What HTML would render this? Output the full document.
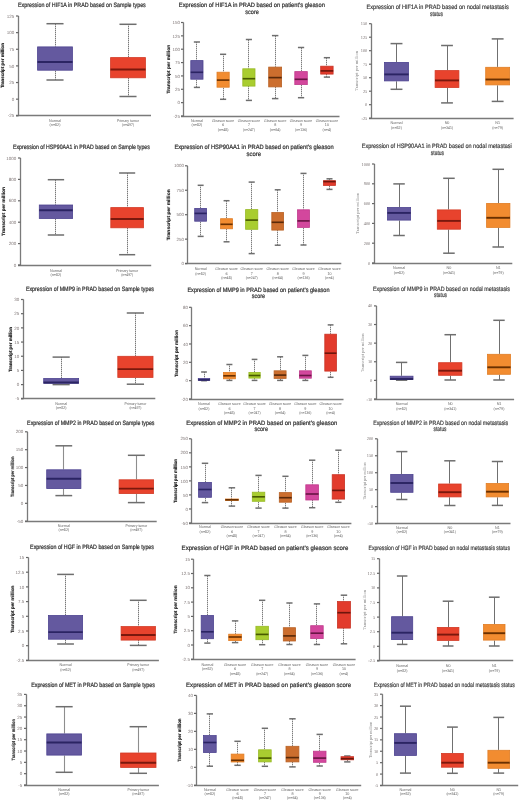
<!DOCTYPE html>
<html><head><meta charset="utf-8"><title>PRAD expression box plots</title>
<style>
html,body{margin:0;padding:0;background:#fff;}
body{width:520px;height:801px;overflow:hidden;}
svg{display:block;font-family:"Liberation Sans", sans-serif;will-change:transform;text-rendering:geometricPrecision;}
</style></head><body>
<svg width="520" height="801" viewBox="0 0 520 801">
<rect width="520" height="801" fill="#fff"/>
<text transform="translate(18 7.3) scale(1 1.13)" x="0" y="0" font-size="5.6" fill="#333" stroke="#333" stroke-width="0.2" textLength="127.8" lengthAdjust="spacingAndGlyphs">Expression of HIF1A in PRAD based on Sample types</text>
<line x1="18.5" y1="16" x2="18.5" y2="115.5" stroke="#7a7a7a" stroke-width="1.3"/>
<line x1="16" y1="115.5" x2="151" y2="115.5" stroke="#7a7a7a" stroke-width="1.35"/>
<line x1="16" y1="16" x2="18.5" y2="16" stroke="#666" stroke-width="1.2"/>
<text x="14.3" y="17.65" font-size="4.5" fill="#807878" text-anchor="end" font-weight="normal">125</text>
<line x1="16" y1="32.63" x2="18.5" y2="32.63" stroke="#666" stroke-width="1.2"/>
<text x="14.3" y="34.28" font-size="4.5" fill="#807878" text-anchor="end" font-weight="normal">100</text>
<line x1="16" y1="49.27" x2="18.5" y2="49.27" stroke="#666" stroke-width="1.2"/>
<text x="14.3" y="50.92" font-size="4.5" fill="#807878" text-anchor="end" font-weight="normal">75</text>
<line x1="16" y1="65.9" x2="18.5" y2="65.9" stroke="#666" stroke-width="1.2"/>
<text x="14.3" y="67.55" font-size="4.5" fill="#807878" text-anchor="end" font-weight="normal">50</text>
<line x1="16" y1="82.53" x2="18.5" y2="82.53" stroke="#666" stroke-width="1.2"/>
<text x="14.3" y="84.18" font-size="4.5" fill="#807878" text-anchor="end" font-weight="normal">25</text>
<line x1="16" y1="99.17" x2="18.5" y2="99.17" stroke="#666" stroke-width="1.2"/>
<text x="14.3" y="100.82" font-size="4.5" fill="#807878" text-anchor="end" font-weight="normal">0</text>
<line x1="16" y1="115.8" x2="18.5" y2="115.8" stroke="#666" stroke-width="1.2"/>
<text x="14.3" y="117.45" font-size="4.5" fill="#807878" text-anchor="end" font-weight="normal">-25</text>
<text transform="translate(4.1 65.6) rotate(-90)" x="0" y="0" font-size="4.6" fill="#222" stroke="#222" stroke-width="0.15" font-weight="bold" text-anchor="middle" textLength="45" lengthAdjust="spacingAndGlyphs">Transcript per million</text>
<line x1="55.5" y1="23.7" x2="55.5" y2="46.5" stroke="#cccccc" stroke-width="1"/>
<line x1="55.5" y1="24" x2="55.5" y2="46.5" stroke="#787878" stroke-width="1" stroke-dasharray="1 1"/>
<line x1="55.5" y1="70.6" x2="55.5" y2="80" stroke="#cccccc" stroke-width="1"/>
<line x1="55.5" y1="71" x2="55.5" y2="80" stroke="#787878" stroke-width="1" stroke-dasharray="1 1"/>
<line x1="46.46" y1="23.7" x2="63.54" y2="23.7" stroke="#6e6e6e" stroke-width="1.5"/>
<line x1="46.46" y1="80" x2="63.54" y2="80" stroke="#6e6e6e" stroke-width="1.5"/>
<rect x="37.6" y="46.9" width="34.8" height="23.3" fill="#64599f" stroke="#4d4390" stroke-width="0.8"/>
<line x1="37.5" y1="62" x2="72.5" y2="62" stroke="#2b2463" stroke-width="1.9"/>
<text transform="translate(55 121.95) scale(0.5)" x="0" y="0" font-size="7.8" fill="#747474" stroke="#747474" stroke-width="0.08" text-anchor="middle" textLength="23.88" lengthAdjust="spacingAndGlyphs">Normal</text>
<text transform="translate(55 126.45) scale(0.5)" x="0" y="0" font-size="7.8" fill="#747474" stroke="#747474" stroke-width="0.08" text-anchor="middle" textLength="21.63" lengthAdjust="spacingAndGlyphs">(n=52)</text>
<line x1="128.5" y1="24.3" x2="128.5" y2="57.2" stroke="#cccccc" stroke-width="1"/>
<line x1="128.5" y1="24" x2="128.5" y2="57.2" stroke="#787878" stroke-width="1" stroke-dasharray="1 1"/>
<line x1="128.5" y1="78.2" x2="128.5" y2="96.5" stroke="#cccccc" stroke-width="1"/>
<line x1="128.5" y1="78" x2="128.5" y2="96.5" stroke="#787878" stroke-width="1" stroke-dasharray="1 1"/>
<line x1="119.46" y1="24.3" x2="136.54" y2="24.3" stroke="#6e6e6e" stroke-width="1.5"/>
<line x1="119.46" y1="96.5" x2="136.54" y2="96.5" stroke="#6e6e6e" stroke-width="1.5"/>
<rect x="110.6" y="57.6" width="34.8" height="20.2" fill="#e8432d" stroke="#d33a25" stroke-width="0.8"/>
<line x1="110.5" y1="69.5" x2="145.5" y2="69.5" stroke="#7a180d" stroke-width="1.9"/>
<text transform="translate(128 121.95) scale(0.5)" x="0" y="0" font-size="7.8" fill="#747474" stroke="#747474" stroke-width="0.08" text-anchor="middle" textLength="43.59" lengthAdjust="spacingAndGlyphs">Primary tumor</text>
<text transform="translate(128 126.45) scale(0.5)" x="0" y="0" font-size="7.8" fill="#747474" stroke="#747474" stroke-width="0.08" text-anchor="middle" textLength="24.12" lengthAdjust="spacingAndGlyphs">(n=497)</text>
<text transform="translate(13 149.3) scale(1 1.13)" x="0" y="0" font-size="5.6" fill="#333" stroke="#333" stroke-width="0.2" textLength="136.8" lengthAdjust="spacingAndGlyphs">Expression of HSP90AA1 in PRAD based on Sample types</text>
<line x1="20.5" y1="158" x2="20.5" y2="265.5" stroke="#7a7a7a" stroke-width="1.3"/>
<line x1="18" y1="265.5" x2="151.2" y2="265.5" stroke="#7a7a7a" stroke-width="1.35"/>
<line x1="18" y1="158" x2="20.5" y2="158" stroke="#666" stroke-width="1.2"/>
<text x="16.3" y="159.65" font-size="4.5" fill="#807878" text-anchor="end" font-weight="normal">1000</text>
<line x1="18" y1="179.4" x2="20.5" y2="179.4" stroke="#666" stroke-width="1.2"/>
<text x="16.3" y="181.05" font-size="4.5" fill="#807878" text-anchor="end" font-weight="normal">800</text>
<line x1="18" y1="200.8" x2="20.5" y2="200.8" stroke="#666" stroke-width="1.2"/>
<text x="16.3" y="202.45" font-size="4.5" fill="#807878" text-anchor="end" font-weight="normal">600</text>
<line x1="18" y1="222.2" x2="20.5" y2="222.2" stroke="#666" stroke-width="1.2"/>
<text x="16.3" y="223.85" font-size="4.5" fill="#807878" text-anchor="end" font-weight="normal">400</text>
<line x1="18" y1="243.6" x2="20.5" y2="243.6" stroke="#666" stroke-width="1.2"/>
<text x="16.3" y="245.25" font-size="4.5" fill="#807878" text-anchor="end" font-weight="normal">200</text>
<line x1="18" y1="265" x2="20.5" y2="265" stroke="#666" stroke-width="1.2"/>
<text x="16.3" y="266.65" font-size="4.5" fill="#807878" text-anchor="end" font-weight="normal">0</text>
<text transform="translate(4.8 211.5) rotate(-90)" x="0" y="0" font-size="4.6" fill="#222" stroke="#222" stroke-width="0.15" font-weight="bold" text-anchor="middle" textLength="49" lengthAdjust="spacingAndGlyphs">Transcript per million</text>
<line x1="55.5" y1="179.7" x2="55.5" y2="204.6" stroke="#cccccc" stroke-width="1"/>
<line x1="55.5" y1="180" x2="55.5" y2="204.6" stroke="#787878" stroke-width="1" stroke-dasharray="1 1"/>
<line x1="55.5" y1="218.9" x2="55.5" y2="235" stroke="#cccccc" stroke-width="1"/>
<line x1="55.5" y1="219" x2="55.5" y2="235" stroke="#787878" stroke-width="1" stroke-dasharray="1 1"/>
<line x1="47.77" y1="179.7" x2="64.13" y2="179.7" stroke="#6e6e6e" stroke-width="1.5"/>
<line x1="47.77" y1="235" x2="64.13" y2="235" stroke="#6e6e6e" stroke-width="1.5"/>
<rect x="39.3" y="205" width="33.3" height="13.5" fill="#64599f" stroke="#4d4390" stroke-width="0.8"/>
<line x1="39.2" y1="210.3" x2="72.7" y2="210.3" stroke="#2b2463" stroke-width="1.9"/>
<text transform="translate(55.95 271.55) scale(0.5)" x="0" y="0" font-size="7.8" fill="#747474" stroke="#747474" stroke-width="0.08" text-anchor="middle" textLength="23.88" lengthAdjust="spacingAndGlyphs">Normal</text>
<text transform="translate(55.95 276.15) scale(0.5)" x="0" y="0" font-size="7.8" fill="#747474" stroke="#747474" stroke-width="0.08" text-anchor="middle" textLength="21.63" lengthAdjust="spacingAndGlyphs">(n=52)</text>
<line x1="127.5" y1="173" x2="127.5" y2="207.2" stroke="#cccccc" stroke-width="1"/>
<line x1="127.5" y1="173" x2="127.5" y2="207.2" stroke="#787878" stroke-width="1" stroke-dasharray="1 1"/>
<line x1="127.5" y1="228.2" x2="127.5" y2="254.7" stroke="#cccccc" stroke-width="1"/>
<line x1="127.5" y1="228" x2="127.5" y2="254.7" stroke="#787878" stroke-width="1" stroke-dasharray="1 1"/>
<line x1="119.11" y1="173" x2="135.19" y2="173" stroke="#6e6e6e" stroke-width="1.5"/>
<line x1="119.11" y1="254.7" x2="135.19" y2="254.7" stroke="#6e6e6e" stroke-width="1.5"/>
<rect x="110.8" y="207.6" width="32.7" height="20.2" fill="#e8432d" stroke="#d33a25" stroke-width="0.8"/>
<line x1="110.7" y1="219" x2="143.6" y2="219" stroke="#7a180d" stroke-width="1.9"/>
<text transform="translate(127.15 271.55) scale(0.5)" x="0" y="0" font-size="7.8" fill="#747474" stroke="#747474" stroke-width="0.08" text-anchor="middle" textLength="43.59" lengthAdjust="spacingAndGlyphs">Primary tumor</text>
<text transform="translate(127.15 276.15) scale(0.5)" x="0" y="0" font-size="7.8" fill="#747474" stroke="#747474" stroke-width="0.08" text-anchor="middle" textLength="24.12" lengthAdjust="spacingAndGlyphs">(n=497)</text>
<text transform="translate(25.9 290.9) scale(1 1.13)" x="0" y="0" font-size="5.6" fill="#333" stroke="#333" stroke-width="0.2" textLength="128.1" lengthAdjust="spacingAndGlyphs">Expression of MMP9 in PRAD based on Sample types</text>
<line x1="23.5" y1="299.5" x2="23.5" y2="398.5" stroke="#7a7a7a" stroke-width="1.3"/>
<line x1="21" y1="398.5" x2="155.3" y2="398.5" stroke="#7a7a7a" stroke-width="1.35"/>
<line x1="21" y1="299.5" x2="23.5" y2="299.5" stroke="#666" stroke-width="1.2"/>
<text x="19.3" y="301.15" font-size="4.5" fill="#807878" text-anchor="end" font-weight="normal">30</text>
<line x1="21" y1="313.69" x2="23.5" y2="313.69" stroke="#666" stroke-width="1.2"/>
<text x="19.3" y="315.34" font-size="4.5" fill="#807878" text-anchor="end" font-weight="normal">25</text>
<line x1="21" y1="327.87" x2="23.5" y2="327.87" stroke="#666" stroke-width="1.2"/>
<text x="19.3" y="329.52" font-size="4.5" fill="#807878" text-anchor="end" font-weight="normal">20</text>
<line x1="21" y1="342.06" x2="23.5" y2="342.06" stroke="#666" stroke-width="1.2"/>
<text x="19.3" y="343.71" font-size="4.5" fill="#807878" text-anchor="end" font-weight="normal">15</text>
<line x1="21" y1="356.24" x2="23.5" y2="356.24" stroke="#666" stroke-width="1.2"/>
<text x="19.3" y="357.89" font-size="4.5" fill="#807878" text-anchor="end" font-weight="normal">10</text>
<line x1="21" y1="370.43" x2="23.5" y2="370.43" stroke="#666" stroke-width="1.2"/>
<text x="19.3" y="372.08" font-size="4.5" fill="#807878" text-anchor="end" font-weight="normal">5</text>
<line x1="21" y1="384.61" x2="23.5" y2="384.61" stroke="#666" stroke-width="1.2"/>
<text x="19.3" y="386.26" font-size="4.5" fill="#807878" text-anchor="end" font-weight="normal">0</text>
<line x1="21" y1="398.8" x2="23.5" y2="398.8" stroke="#666" stroke-width="1.2"/>
<text x="19.3" y="400.45" font-size="4.5" fill="#807878" text-anchor="end" font-weight="normal">-5</text>
<text transform="translate(12.4 349.5) rotate(-90)" x="0" y="0" font-size="4.6" fill="#222" stroke="#222" stroke-width="0.15" font-weight="bold" text-anchor="middle" textLength="45" lengthAdjust="spacingAndGlyphs">Transcript per million</text>
<line x1="61.5" y1="357.1" x2="61.5" y2="378.1" stroke="#cccccc" stroke-width="1"/>
<line x1="61.5" y1="357" x2="61.5" y2="378.1" stroke="#787878" stroke-width="1" stroke-dasharray="1 1"/>
<line x1="61.5" y1="383.7" x2="61.5" y2="384.6" stroke="#cccccc" stroke-width="1"/>
<line x1="61.5" y1="384" x2="61.5" y2="384.6" stroke="#787878" stroke-width="1" stroke-dasharray="1 1"/>
<line x1="52.58" y1="357.1" x2="69.72" y2="357.1" stroke="#6e6e6e" stroke-width="1.5"/>
<line x1="52.58" y1="384.6" x2="69.72" y2="384.6" stroke="#6e6e6e" stroke-width="1.5"/>
<rect x="43.7" y="378.5" width="34.9" height="4.8" fill="#64599f" stroke="#4d4390" stroke-width="0.8"/>
<line x1="43.6" y1="382.5" x2="78.7" y2="382.5" stroke="#2b2463" stroke-width="1.9"/>
<text transform="translate(61.15 404.85) scale(0.5)" x="0" y="0" font-size="7.8" fill="#747474" stroke="#747474" stroke-width="0.08" text-anchor="middle" textLength="23.88" lengthAdjust="spacingAndGlyphs">Normal</text>
<text transform="translate(61.15 409.35) scale(0.5)" x="0" y="0" font-size="7.8" fill="#747474" stroke="#747474" stroke-width="0.08" text-anchor="middle" textLength="21.63" lengthAdjust="spacingAndGlyphs">(n=52)</text>
<line x1="135.5" y1="313" x2="135.5" y2="355.9" stroke="#cccccc" stroke-width="1"/>
<line x1="135.5" y1="313" x2="135.5" y2="355.9" stroke="#787878" stroke-width="1" stroke-dasharray="1 1"/>
<line x1="135.5" y1="377.8" x2="135.5" y2="384.2" stroke="#cccccc" stroke-width="1"/>
<line x1="135.5" y1="378" x2="135.5" y2="384.2" stroke="#787878" stroke-width="1" stroke-dasharray="1 1"/>
<line x1="126.76" y1="313" x2="144.04" y2="313" stroke="#6e6e6e" stroke-width="1.5"/>
<line x1="126.76" y1="384.2" x2="144.04" y2="384.2" stroke="#6e6e6e" stroke-width="1.5"/>
<rect x="117.8" y="356.3" width="35.2" height="21.1" fill="#e8432d" stroke="#d33a25" stroke-width="0.8"/>
<line x1="117.7" y1="369.1" x2="153.1" y2="369.1" stroke="#7a180d" stroke-width="1.9"/>
<text transform="translate(135.4 404.85) scale(0.5)" x="0" y="0" font-size="7.8" fill="#747474" stroke="#747474" stroke-width="0.08" text-anchor="middle" textLength="43.59" lengthAdjust="spacingAndGlyphs">Primary tumor</text>
<text transform="translate(135.4 409.35) scale(0.5)" x="0" y="0" font-size="7.8" fill="#747474" stroke="#747474" stroke-width="0.08" text-anchor="middle" textLength="24.12" lengthAdjust="spacingAndGlyphs">(n=497)</text>
<text transform="translate(27.1 424.6) scale(1 1.13)" x="0" y="0" font-size="5.6" fill="#333" stroke="#333" stroke-width="0.2" textLength="127.4" lengthAdjust="spacingAndGlyphs">Expression of MMP2 in PRAD based on Sample types</text>
<line x1="27.5" y1="431.8" x2="27.5" y2="521.5" stroke="#7a7a7a" stroke-width="1.3"/>
<line x1="25" y1="521.5" x2="156.7" y2="521.5" stroke="#7a7a7a" stroke-width="1.35"/>
<line x1="25" y1="431.8" x2="27.5" y2="431.8" stroke="#666" stroke-width="1.2"/>
<text x="23.3" y="433.45" font-size="4.5" fill="#807878" text-anchor="end" font-weight="normal">200</text>
<line x1="25" y1="449.68" x2="27.5" y2="449.68" stroke="#666" stroke-width="1.2"/>
<text x="23.3" y="451.33" font-size="4.5" fill="#807878" text-anchor="end" font-weight="normal">150</text>
<line x1="25" y1="467.56" x2="27.5" y2="467.56" stroke="#666" stroke-width="1.2"/>
<text x="23.3" y="469.21" font-size="4.5" fill="#807878" text-anchor="end" font-weight="normal">100</text>
<line x1="25" y1="485.44" x2="27.5" y2="485.44" stroke="#666" stroke-width="1.2"/>
<text x="23.3" y="487.09" font-size="4.5" fill="#807878" text-anchor="end" font-weight="normal">50</text>
<line x1="25" y1="503.32" x2="27.5" y2="503.32" stroke="#666" stroke-width="1.2"/>
<text x="23.3" y="504.97" font-size="4.5" fill="#807878" text-anchor="end" font-weight="normal">0</text>
<line x1="25" y1="521.2" x2="27.5" y2="521.2" stroke="#666" stroke-width="1.2"/>
<text x="23.3" y="522.85" font-size="4.5" fill="#807878" text-anchor="end" font-weight="normal">-50</text>
<text transform="translate(13.5 476.8) rotate(-90)" x="0" y="0" font-size="4.6" fill="#222" stroke="#222" stroke-width="0.15" font-weight="bold" text-anchor="middle" textLength="40.5" lengthAdjust="spacingAndGlyphs">Transcript per million</text>
<line x1="63.5" y1="445.8" x2="63.5" y2="469.4" stroke="#8e8e8e" stroke-width="1.1"/>
<line x1="63.5" y1="489" x2="63.5" y2="495.6" stroke="#8e8e8e" stroke-width="1.1"/>
<line x1="55.4" y1="445.8" x2="72.2" y2="445.8" stroke="#6e6e6e" stroke-width="1.5"/>
<line x1="55.4" y1="495.6" x2="72.2" y2="495.6" stroke="#6e6e6e" stroke-width="1.5"/>
<rect x="46.7" y="469.8" width="34.2" height="18.8" fill="#64599f" stroke="#4d4390" stroke-width="0.8"/>
<line x1="46.6" y1="478.7" x2="81" y2="478.7" stroke="#2b2463" stroke-width="1.9"/>
<text transform="translate(63.8 527.05) scale(0.5)" x="0" y="0" font-size="7.8" fill="#747474" stroke="#747474" stroke-width="0.08" text-anchor="middle" textLength="23.88" lengthAdjust="spacingAndGlyphs">Normal</text>
<text transform="translate(63.8 531.05) scale(0.5)" x="0" y="0" font-size="7.8" fill="#747474" stroke="#747474" stroke-width="0.08" text-anchor="middle" textLength="21.63" lengthAdjust="spacingAndGlyphs">(n=52)</text>
<line x1="136.5" y1="455.3" x2="136.5" y2="479.4" stroke="#8e8e8e" stroke-width="1.1"/>
<line x1="136.5" y1="494" x2="136.5" y2="502.6" stroke="#8e8e8e" stroke-width="1.1"/>
<line x1="127.88" y1="455.3" x2="144.82" y2="455.3" stroke="#6e6e6e" stroke-width="1.5"/>
<line x1="127.88" y1="502.6" x2="144.82" y2="502.6" stroke="#6e6e6e" stroke-width="1.5"/>
<rect x="119.1" y="479.8" width="34.5" height="13.8" fill="#e8432d" stroke="#d33a25" stroke-width="0.8"/>
<line x1="119" y1="488.6" x2="153.7" y2="488.6" stroke="#7a180d" stroke-width="1.9"/>
<text transform="translate(136.35 527.05) scale(0.5)" x="0" y="0" font-size="7.8" fill="#747474" stroke="#747474" stroke-width="0.08" text-anchor="middle" textLength="43.59" lengthAdjust="spacingAndGlyphs">Primary tumor</text>
<text transform="translate(136.35 531.05) scale(0.5)" x="0" y="0" font-size="7.8" fill="#747474" stroke="#747474" stroke-width="0.08" text-anchor="middle" textLength="24.12" lengthAdjust="spacingAndGlyphs">(n=497)</text>
<text transform="translate(30.1 549.3) scale(1 1.13)" x="0" y="0" font-size="5.6" fill="#333" stroke="#333" stroke-width="0.2" textLength="123.9" lengthAdjust="spacingAndGlyphs">Expression of HGF in PRAD based on Sample types</text>
<line x1="28.5" y1="557.5" x2="28.5" y2="660.5" stroke="#7a7a7a" stroke-width="1.3"/>
<line x1="26" y1="660.5" x2="158.9" y2="660.5" stroke="#7a7a7a" stroke-width="1.35"/>
<line x1="26" y1="557.5" x2="28.5" y2="557.5" stroke="#666" stroke-width="1.2"/>
<text x="24.3" y="559.15" font-size="4.5" fill="#807878" text-anchor="end" font-weight="normal">15</text>
<line x1="26" y1="572.2" x2="28.5" y2="572.2" stroke="#666" stroke-width="1.2"/>
<text x="24.3" y="573.85" font-size="4.5" fill="#807878" text-anchor="end" font-weight="normal">12.5</text>
<line x1="26" y1="586.9" x2="28.5" y2="586.9" stroke="#666" stroke-width="1.2"/>
<text x="24.3" y="588.55" font-size="4.5" fill="#807878" text-anchor="end" font-weight="normal">10</text>
<line x1="26" y1="601.6" x2="28.5" y2="601.6" stroke="#666" stroke-width="1.2"/>
<text x="24.3" y="603.25" font-size="4.5" fill="#807878" text-anchor="end" font-weight="normal">7.5</text>
<line x1="26" y1="616.3" x2="28.5" y2="616.3" stroke="#666" stroke-width="1.2"/>
<text x="24.3" y="617.95" font-size="4.5" fill="#807878" text-anchor="end" font-weight="normal">5</text>
<line x1="26" y1="631" x2="28.5" y2="631" stroke="#666" stroke-width="1.2"/>
<text x="24.3" y="632.65" font-size="4.5" fill="#807878" text-anchor="end" font-weight="normal">2.5</text>
<line x1="26" y1="645.7" x2="28.5" y2="645.7" stroke="#666" stroke-width="1.2"/>
<text x="24.3" y="647.35" font-size="4.5" fill="#807878" text-anchor="end" font-weight="normal">0</text>
<line x1="26" y1="660.4" x2="28.5" y2="660.4" stroke="#666" stroke-width="1.2"/>
<text x="24.3" y="662.05" font-size="4.5" fill="#807878" text-anchor="end" font-weight="normal">-2.5</text>
<text transform="translate(13.5 609.3) rotate(-90)" x="0" y="0" font-size="4.6" fill="#222" stroke="#222" stroke-width="0.15" font-weight="bold" text-anchor="middle" textLength="47.5" lengthAdjust="spacingAndGlyphs">Transcript per million</text>
<line x1="65.5" y1="574.4" x2="65.5" y2="615.1" stroke="#cccccc" stroke-width="1"/>
<line x1="65.5" y1="574" x2="65.5" y2="615.1" stroke="#787878" stroke-width="1" stroke-dasharray="1 1"/>
<line x1="65.5" y1="639.6" x2="65.5" y2="644" stroke="#cccccc" stroke-width="1"/>
<line x1="65.5" y1="640" x2="65.5" y2="644" stroke="#787878" stroke-width="1" stroke-dasharray="1 1"/>
<line x1="57.17" y1="574.4" x2="73.93" y2="574.4" stroke="#6e6e6e" stroke-width="1.5"/>
<line x1="57.17" y1="644" x2="73.93" y2="644" stroke="#6e6e6e" stroke-width="1.5"/>
<rect x="48.5" y="615.5" width="34.1" height="23.7" fill="#64599f" stroke="#4d4390" stroke-width="0.8"/>
<line x1="48.4" y1="632.1" x2="82.7" y2="632.1" stroke="#2b2463" stroke-width="1.9"/>
<text transform="translate(65.55 666.35) scale(0.5)" x="0" y="0" font-size="7.8" fill="#747474" stroke="#747474" stroke-width="0.08" text-anchor="middle" textLength="23.88" lengthAdjust="spacingAndGlyphs">Normal</text>
<text transform="translate(65.55 671.05) scale(0.5)" x="0" y="0" font-size="7.8" fill="#747474" stroke="#747474" stroke-width="0.08" text-anchor="middle" textLength="21.63" lengthAdjust="spacingAndGlyphs">(n=52)</text>
<line x1="138.5" y1="600.3" x2="138.5" y2="626.2" stroke="#cccccc" stroke-width="1"/>
<line x1="138.5" y1="600" x2="138.5" y2="626.2" stroke="#787878" stroke-width="1" stroke-dasharray="1 1"/>
<line x1="138.5" y1="640.5" x2="138.5" y2="645.4" stroke="#cccccc" stroke-width="1"/>
<line x1="138.5" y1="640" x2="138.5" y2="645.4" stroke="#787878" stroke-width="1" stroke-dasharray="1 1"/>
<line x1="129.83" y1="600.3" x2="146.67" y2="600.3" stroke="#6e6e6e" stroke-width="1.5"/>
<line x1="129.83" y1="645.4" x2="146.67" y2="645.4" stroke="#6e6e6e" stroke-width="1.5"/>
<rect x="121.1" y="626.6" width="34.3" height="13.5" fill="#e8432d" stroke="#d33a25" stroke-width="0.8"/>
<line x1="121" y1="635" x2="155.5" y2="635" stroke="#7a180d" stroke-width="1.9"/>
<text transform="translate(138.25 666.35) scale(0.5)" x="0" y="0" font-size="7.8" fill="#747474" stroke="#747474" stroke-width="0.08" text-anchor="middle" textLength="43.59" lengthAdjust="spacingAndGlyphs">Primary tumor</text>
<text transform="translate(138.25 671.05) scale(0.5)" x="0" y="0" font-size="7.8" fill="#747474" stroke="#747474" stroke-width="0.08" text-anchor="middle" textLength="24.12" lengthAdjust="spacingAndGlyphs">(n=497)</text>
<text transform="translate(31.2 686.8) scale(1 1.13)" x="0" y="0" font-size="5.6" fill="#333" stroke="#333" stroke-width="0.2" textLength="123.7" lengthAdjust="spacingAndGlyphs">Expression of MET in PRAD based on Sample types</text>
<line x1="26.5" y1="694.4" x2="26.5" y2="785.5" stroke="#7a7a7a" stroke-width="1.3"/>
<line x1="24" y1="785.5" x2="158.9" y2="785.5" stroke="#7a7a7a" stroke-width="1.35"/>
<line x1="24" y1="694.4" x2="26.5" y2="694.4" stroke="#666" stroke-width="1.2"/>
<text x="22.3" y="696.05" font-size="4.5" fill="#807878" text-anchor="end" font-weight="normal">35</text>
<line x1="24" y1="705.73" x2="26.5" y2="705.73" stroke="#666" stroke-width="1.2"/>
<text x="22.3" y="707.38" font-size="4.5" fill="#807878" text-anchor="end" font-weight="normal">30</text>
<line x1="24" y1="717.05" x2="26.5" y2="717.05" stroke="#666" stroke-width="1.2"/>
<text x="22.3" y="718.7" font-size="4.5" fill="#807878" text-anchor="end" font-weight="normal">25</text>
<line x1="24" y1="728.38" x2="26.5" y2="728.38" stroke="#666" stroke-width="1.2"/>
<text x="22.3" y="730.02" font-size="4.5" fill="#807878" text-anchor="end" font-weight="normal">20</text>
<line x1="24" y1="739.7" x2="26.5" y2="739.7" stroke="#666" stroke-width="1.2"/>
<text x="22.3" y="741.35" font-size="4.5" fill="#807878" text-anchor="end" font-weight="normal">15</text>
<line x1="24" y1="751.02" x2="26.5" y2="751.02" stroke="#666" stroke-width="1.2"/>
<text x="22.3" y="752.67" font-size="4.5" fill="#807878" text-anchor="end" font-weight="normal">10</text>
<line x1="24" y1="762.35" x2="26.5" y2="762.35" stroke="#666" stroke-width="1.2"/>
<text x="22.3" y="764" font-size="4.5" fill="#807878" text-anchor="end" font-weight="normal">5</text>
<line x1="24" y1="773.67" x2="26.5" y2="773.67" stroke="#666" stroke-width="1.2"/>
<text x="22.3" y="775.32" font-size="4.5" fill="#807878" text-anchor="end" font-weight="normal">0</text>
<line x1="24" y1="785" x2="26.5" y2="785" stroke="#666" stroke-width="1.2"/>
<text x="22.3" y="786.65" font-size="4.5" fill="#807878" text-anchor="end" font-weight="normal">-5</text>
<text transform="translate(15.3 739.8) rotate(-90)" x="0" y="0" font-size="4.6" fill="#222" stroke="#222" stroke-width="0.15" font-weight="bold" text-anchor="middle" textLength="41.5" lengthAdjust="spacingAndGlyphs">Transcript per million</text>
<line x1="64.5" y1="706.7" x2="64.5" y2="733.5" stroke="#8e8e8e" stroke-width="1.1"/>
<line x1="64.5" y1="755.5" x2="64.5" y2="772.3" stroke="#8e8e8e" stroke-width="1.1"/>
<line x1="55.63" y1="706.7" x2="72.67" y2="706.7" stroke="#6e6e6e" stroke-width="1.5"/>
<line x1="55.63" y1="772.3" x2="72.67" y2="772.3" stroke="#6e6e6e" stroke-width="1.5"/>
<rect x="46.8" y="733.9" width="34.7" height="21.2" fill="#64599f" stroke="#4d4390" stroke-width="0.8"/>
<line x1="46.7" y1="742.5" x2="81.6" y2="742.5" stroke="#2b2463" stroke-width="1.9"/>
<text transform="translate(64.15 790.85) scale(0.5)" x="0" y="0" font-size="7.8" fill="#747474" stroke="#747474" stroke-width="0.08" text-anchor="middle" textLength="23.88" lengthAdjust="spacingAndGlyphs">Normal</text>
<text transform="translate(64.15 795.05) scale(0.5)" x="0" y="0" font-size="7.8" fill="#747474" stroke="#747474" stroke-width="0.08" text-anchor="middle" textLength="21.63" lengthAdjust="spacingAndGlyphs">(n=52)</text>
<line x1="138.5" y1="726.7" x2="138.5" y2="752.6" stroke="#8e8e8e" stroke-width="1.1"/>
<line x1="138.5" y1="767.8" x2="138.5" y2="773.3" stroke="#8e8e8e" stroke-width="1.1"/>
<line x1="129.61" y1="726.7" x2="146.99" y2="726.7" stroke="#6e6e6e" stroke-width="1.5"/>
<line x1="129.61" y1="773.3" x2="146.99" y2="773.3" stroke="#6e6e6e" stroke-width="1.5"/>
<rect x="120.6" y="753" width="35.4" height="14.4" fill="#e8432d" stroke="#d33a25" stroke-width="0.8"/>
<line x1="120.5" y1="762.7" x2="156.1" y2="762.7" stroke="#7a180d" stroke-width="1.9"/>
<text transform="translate(138.3 790.85) scale(0.5)" x="0" y="0" font-size="7.8" fill="#747474" stroke="#747474" stroke-width="0.08" text-anchor="middle" textLength="43.59" lengthAdjust="spacingAndGlyphs">Primary tumor</text>
<text transform="translate(138.3 795.05) scale(0.5)" x="0" y="0" font-size="7.8" fill="#747474" stroke="#747474" stroke-width="0.08" text-anchor="middle" textLength="24.12" lengthAdjust="spacingAndGlyphs">(n=497)</text>
<text transform="translate(178.8 6.6) scale(1 1.13)" x="0" y="0" font-size="5.6" fill="#333" stroke="#333" stroke-width="0.2" textLength="146.1" lengthAdjust="spacingAndGlyphs">Expression of HIF1A in PRAD based on patient&#8217;s gleason</text>
<text transform="translate(245.3 13.6) scale(1 1.13)" x="0" y="0" font-size="5.6" fill="#333" stroke="#333" stroke-width="0.2" textLength="13.5" lengthAdjust="spacingAndGlyphs">score</text>
<line x1="183.5" y1="22.5" x2="183.5" y2="116.5" stroke="#7a7a7a" stroke-width="1.3"/>
<line x1="181" y1="116.5" x2="339.5" y2="116.5" stroke="#7a7a7a" stroke-width="1.35"/>
<line x1="181" y1="22.5" x2="183.5" y2="22.5" stroke="#666" stroke-width="1.2"/>
<text x="179.9" y="24.15" font-size="4.5" fill="#807878" text-anchor="end" font-weight="normal">150</text>
<line x1="181" y1="35.86" x2="183.5" y2="35.86" stroke="#666" stroke-width="1.2"/>
<text x="179.9" y="37.51" font-size="4.5" fill="#807878" text-anchor="end" font-weight="normal">125</text>
<line x1="181" y1="49.21" x2="183.5" y2="49.21" stroke="#666" stroke-width="1.2"/>
<text x="179.9" y="50.86" font-size="4.5" fill="#807878" text-anchor="end" font-weight="normal">100</text>
<line x1="181" y1="62.57" x2="183.5" y2="62.57" stroke="#666" stroke-width="1.2"/>
<text x="179.9" y="64.22" font-size="4.5" fill="#807878" text-anchor="end" font-weight="normal">75</text>
<line x1="181" y1="75.93" x2="183.5" y2="75.93" stroke="#666" stroke-width="1.2"/>
<text x="179.9" y="77.58" font-size="4.5" fill="#807878" text-anchor="end" font-weight="normal">50</text>
<line x1="181" y1="89.29" x2="183.5" y2="89.29" stroke="#666" stroke-width="1.2"/>
<text x="179.9" y="90.94" font-size="4.5" fill="#807878" text-anchor="end" font-weight="normal">25</text>
<line x1="181" y1="102.64" x2="183.5" y2="102.64" stroke="#666" stroke-width="1.2"/>
<text x="179.9" y="104.29" font-size="4.5" fill="#807878" text-anchor="end" font-weight="normal">0</text>
<line x1="181" y1="116" x2="183.5" y2="116" stroke="#666" stroke-width="1.2"/>
<text x="179.9" y="117.65" font-size="4.5" fill="#807878" text-anchor="end" font-weight="normal">-25</text>
<text transform="translate(169.5 69.2) rotate(-90)" x="0" y="0" font-size="4.6" fill="#222" stroke="#222" stroke-width="0.15" font-weight="bold" text-anchor="middle" textLength="48.5" lengthAdjust="spacingAndGlyphs">Transcript per million</text>
<line x1="196.5" y1="42" x2="196.5" y2="60.2" stroke="#d0d0d0" stroke-width="1"/>
<line x1="196.5" y1="42" x2="196.5" y2="60.2" stroke="#7c7c7c" stroke-width="1" stroke-dasharray="1 1"/>
<line x1="196.5" y1="79.6" x2="196.5" y2="87.4" stroke="#d0d0d0" stroke-width="1"/>
<line x1="196.5" y1="80" x2="196.5" y2="87.4" stroke="#7c7c7c" stroke-width="1" stroke-dasharray="1 1"/>
<line x1="193.84" y1="42" x2="199.96" y2="42" stroke="#6e6e6e" stroke-width="1.5"/>
<line x1="193.84" y1="87.4" x2="199.96" y2="87.4" stroke="#6e6e6e" stroke-width="1.5"/>
<rect x="190.8" y="60.6" width="12.2" height="18.6" fill="#64599f" stroke="#4d4390" stroke-width="0.8"/>
<line x1="190.7" y1="72.3" x2="203.1" y2="72.3" stroke="#2b2463" stroke-width="1.65"/>
<text transform="translate(196.9 121.65) scale(0.5)" x="0" y="0" font-size="7.8" fill="#747474" stroke="#747474" stroke-width="0.08" text-anchor="middle" textLength="23.88" lengthAdjust="spacingAndGlyphs">Normal</text>
<text transform="translate(196.9 125.95) scale(0.5)" x="0" y="0" font-size="7.8" fill="#747474" stroke="#747474" stroke-width="0.08" text-anchor="middle" textLength="21.63" lengthAdjust="spacingAndGlyphs">(n=52)</text>
<line x1="223.5" y1="54.3" x2="223.5" y2="71.8" stroke="#d0d0d0" stroke-width="1"/>
<line x1="223.5" y1="54" x2="223.5" y2="71.8" stroke="#7c7c7c" stroke-width="1" stroke-dasharray="1 1"/>
<line x1="223.5" y1="87.6" x2="223.5" y2="99.3" stroke="#d0d0d0" stroke-width="1"/>
<line x1="223.5" y1="88" x2="223.5" y2="99.3" stroke="#7c7c7c" stroke-width="1" stroke-dasharray="1 1"/>
<line x1="220.04" y1="54.3" x2="226.16" y2="54.3" stroke="#6e6e6e" stroke-width="1.5"/>
<line x1="220.04" y1="99.3" x2="226.16" y2="99.3" stroke="#6e6e6e" stroke-width="1.5"/>
<rect x="217" y="72.2" width="12.2" height="15" fill="#f28c30" stroke="#e07d25" stroke-width="0.8"/>
<line x1="216.9" y1="80.1" x2="229.3" y2="80.1" stroke="#6a3000" stroke-width="1.65"/>
<text transform="translate(223.1 121.65) scale(0.5)" x="0" y="0" font-size="7.8" fill="#747474" stroke="#747474" stroke-width="0.08" text-anchor="middle" textLength="44.76" lengthAdjust="spacingAndGlyphs">Gleason score</text>
<text transform="translate(223.1 125.95) scale(0.5)" x="0" y="0" font-size="7.8" fill="#747474" stroke="#747474" stroke-width="0.08" text-anchor="middle" textLength="4.12" lengthAdjust="spacingAndGlyphs">6</text>
<text transform="translate(223.1 130.65) scale(0.5)" x="0" y="0" font-size="7.8" fill="#747474" stroke="#747474" stroke-width="0.08" text-anchor="middle" textLength="21.63" lengthAdjust="spacingAndGlyphs">(n=45)</text>
<line x1="248.5" y1="39.5" x2="248.5" y2="68.4" stroke="#d0d0d0" stroke-width="1"/>
<line x1="248.5" y1="40" x2="248.5" y2="68.4" stroke="#7c7c7c" stroke-width="1" stroke-dasharray="1 1"/>
<line x1="248.5" y1="86.5" x2="248.5" y2="100.4" stroke="#d0d0d0" stroke-width="1"/>
<line x1="248.5" y1="86" x2="248.5" y2="100.4" stroke="#7c7c7c" stroke-width="1" stroke-dasharray="1 1"/>
<line x1="245.84" y1="39.5" x2="251.96" y2="39.5" stroke="#6e6e6e" stroke-width="1.5"/>
<line x1="245.84" y1="100.4" x2="251.96" y2="100.4" stroke="#6e6e6e" stroke-width="1.5"/>
<rect x="242.8" y="68.8" width="12.2" height="17.3" fill="#a9cd30" stroke="#98ba26" stroke-width="0.8"/>
<line x1="242.7" y1="78.7" x2="255.1" y2="78.7" stroke="#485a00" stroke-width="1.65"/>
<text transform="translate(248.9 121.65) scale(0.5)" x="0" y="0" font-size="7.8" fill="#747474" stroke="#747474" stroke-width="0.08" text-anchor="middle" textLength="44.76" lengthAdjust="spacingAndGlyphs">Gleason score</text>
<text transform="translate(248.9 125.95) scale(0.5)" x="0" y="0" font-size="7.8" fill="#747474" stroke="#747474" stroke-width="0.08" text-anchor="middle" textLength="4.12" lengthAdjust="spacingAndGlyphs">7</text>
<text transform="translate(248.9 130.65) scale(0.5)" x="0" y="0" font-size="7.8" fill="#747474" stroke="#747474" stroke-width="0.08" text-anchor="middle" textLength="24.12" lengthAdjust="spacingAndGlyphs">(n=247)</text>
<line x1="275.5" y1="35.6" x2="275.5" y2="66.7" stroke="#d0d0d0" stroke-width="1"/>
<line x1="275.5" y1="36" x2="275.5" y2="66.7" stroke="#7c7c7c" stroke-width="1" stroke-dasharray="1 1"/>
<line x1="275.5" y1="87.3" x2="275.5" y2="98.6" stroke="#d0d0d0" stroke-width="1"/>
<line x1="275.5" y1="87" x2="275.5" y2="98.6" stroke="#7c7c7c" stroke-width="1" stroke-dasharray="1 1"/>
<line x1="271.93" y1="35.6" x2="278.37" y2="35.6" stroke="#6e6e6e" stroke-width="1.5"/>
<line x1="271.93" y1="98.6" x2="278.37" y2="98.6" stroke="#6e6e6e" stroke-width="1.5"/>
<rect x="268.7" y="67.1" width="12.9" height="19.8" fill="#cc6e2e" stroke="#b86226" stroke-width="0.8"/>
<line x1="268.6" y1="77.6" x2="281.7" y2="77.6" stroke="#5a2a0a" stroke-width="1.65"/>
<text transform="translate(275.15 121.65) scale(0.5)" x="0" y="0" font-size="7.8" fill="#747474" stroke="#747474" stroke-width="0.08" text-anchor="middle" textLength="44.76" lengthAdjust="spacingAndGlyphs">Gleason score</text>
<text transform="translate(275.15 125.95) scale(0.5)" x="0" y="0" font-size="7.8" fill="#747474" stroke="#747474" stroke-width="0.08" text-anchor="middle" textLength="4.12" lengthAdjust="spacingAndGlyphs">8</text>
<text transform="translate(275.15 130.65) scale(0.5)" x="0" y="0" font-size="7.8" fill="#747474" stroke="#747474" stroke-width="0.08" text-anchor="middle" textLength="21.63" lengthAdjust="spacingAndGlyphs">(n=64)</text>
<line x1="301.5" y1="47.5" x2="301.5" y2="71.2" stroke="#d0d0d0" stroke-width="1"/>
<line x1="301.5" y1="48" x2="301.5" y2="71.2" stroke="#7c7c7c" stroke-width="1" stroke-dasharray="1 1"/>
<line x1="301.5" y1="85" x2="301.5" y2="97.7" stroke="#d0d0d0" stroke-width="1"/>
<line x1="301.5" y1="85" x2="301.5" y2="97.7" stroke="#7c7c7c" stroke-width="1" stroke-dasharray="1 1"/>
<line x1="297.92" y1="47.5" x2="304.18" y2="47.5" stroke="#6e6e6e" stroke-width="1.5"/>
<line x1="297.92" y1="97.7" x2="304.18" y2="97.7" stroke="#6e6e6e" stroke-width="1.5"/>
<rect x="294.8" y="71.6" width="12.5" height="13" fill="#d3479d" stroke="#c03b8c" stroke-width="0.8"/>
<line x1="294.7" y1="79.3" x2="307.4" y2="79.3" stroke="#6a1545" stroke-width="1.65"/>
<text transform="translate(301.05 121.65) scale(0.5)" x="0" y="0" font-size="7.8" fill="#747474" stroke="#747474" stroke-width="0.08" text-anchor="middle" textLength="44.76" lengthAdjust="spacingAndGlyphs">Gleason score</text>
<text transform="translate(301.05 125.95) scale(0.5)" x="0" y="0" font-size="7.8" fill="#747474" stroke="#747474" stroke-width="0.08" text-anchor="middle" textLength="4.12" lengthAdjust="spacingAndGlyphs">9</text>
<text transform="translate(301.05 130.65) scale(0.5)" x="0" y="0" font-size="7.8" fill="#747474" stroke="#747474" stroke-width="0.08" text-anchor="middle" textLength="24.12" lengthAdjust="spacingAndGlyphs">(n=136)</text>
<line x1="326.5" y1="57.7" x2="326.5" y2="65.8" stroke="#d0d0d0" stroke-width="1"/>
<line x1="326.5" y1="58" x2="326.5" y2="65.8" stroke="#7c7c7c" stroke-width="1" stroke-dasharray="1 1"/>
<line x1="326.5" y1="74.5" x2="326.5" y2="77.1" stroke="#d0d0d0" stroke-width="1"/>
<line x1="326.5" y1="74" x2="326.5" y2="77.1" stroke="#7c7c7c" stroke-width="1" stroke-dasharray="1 1"/>
<line x1="323.8" y1="57.7" x2="330" y2="57.7" stroke="#6e6e6e" stroke-width="1.5"/>
<line x1="323.8" y1="77.1" x2="330" y2="77.1" stroke="#6e6e6e" stroke-width="1.5"/>
<rect x="320.7" y="66.2" width="12.4" height="7.9" fill="#e23b2c" stroke="#c93224" stroke-width="0.8"/>
<line x1="320.6" y1="70.9" x2="333.2" y2="70.9" stroke="#6e160c" stroke-width="1.65"/>
<text transform="translate(326.9 121.65) scale(0.5)" x="0" y="0" font-size="7.8" fill="#747474" stroke="#747474" stroke-width="0.08" text-anchor="middle" textLength="44.76" lengthAdjust="spacingAndGlyphs">Gleason score</text>
<text transform="translate(326.9 125.95) scale(0.5)" x="0" y="0" font-size="7.8" fill="#747474" stroke="#747474" stroke-width="0.08" text-anchor="middle" textLength="8.24" lengthAdjust="spacingAndGlyphs">10</text>
<text transform="translate(326.9 130.65) scale(0.5)" x="0" y="0" font-size="7.8" fill="#747474" stroke="#747474" stroke-width="0.08" text-anchor="middle" textLength="17.51" lengthAdjust="spacingAndGlyphs">(n=4)</text>
<text transform="translate(174.4 149.3) scale(1 1.13)" x="0" y="0" font-size="5.6" fill="#333" stroke="#333" stroke-width="0.2" textLength="159.3" lengthAdjust="spacingAndGlyphs">Expression of HSP90AA1 in PRAD based on patient&#8217;s gleason</text>
<text transform="translate(246.5 155.9) scale(1 1.13)" x="0" y="0" font-size="5.6" fill="#333" stroke="#333" stroke-width="0.2" textLength="14.5" lengthAdjust="spacingAndGlyphs">score</text>
<line x1="187.5" y1="165.8" x2="187.5" y2="263.5" stroke="#7a7a7a" stroke-width="1.3"/>
<line x1="185" y1="263.5" x2="341.3" y2="263.5" stroke="#7a7a7a" stroke-width="1.35"/>
<line x1="185" y1="165.8" x2="187.5" y2="165.8" stroke="#666" stroke-width="1.2"/>
<text x="183.9" y="167.45" font-size="4.5" fill="#807878" text-anchor="end" font-weight="normal">1000</text>
<line x1="185" y1="190.25" x2="187.5" y2="190.25" stroke="#666" stroke-width="1.2"/>
<text x="183.9" y="191.9" font-size="4.5" fill="#807878" text-anchor="end" font-weight="normal">750</text>
<line x1="185" y1="214.7" x2="187.5" y2="214.7" stroke="#666" stroke-width="1.2"/>
<text x="183.9" y="216.35" font-size="4.5" fill="#807878" text-anchor="end" font-weight="normal">500</text>
<line x1="185" y1="239.15" x2="187.5" y2="239.15" stroke="#666" stroke-width="1.2"/>
<text x="183.9" y="240.8" font-size="4.5" fill="#807878" text-anchor="end" font-weight="normal">250</text>
<line x1="185" y1="263.6" x2="187.5" y2="263.6" stroke="#666" stroke-width="1.2"/>
<text x="183.9" y="265.25" font-size="4.5" fill="#807878" text-anchor="end" font-weight="normal">0</text>
<text transform="translate(170.3 214.7) rotate(-90)" x="0" y="0" font-size="4.6" fill="#222" stroke="#222" stroke-width="0.15" font-weight="bold" text-anchor="middle" textLength="51" lengthAdjust="spacingAndGlyphs">Transcript per million</text>
<line x1="200.5" y1="185.3" x2="200.5" y2="208" stroke="#d0d0d0" stroke-width="1"/>
<line x1="200.5" y1="185" x2="200.5" y2="208" stroke="#7c7c7c" stroke-width="1" stroke-dasharray="1 1"/>
<line x1="200.5" y1="221.6" x2="200.5" y2="236.4" stroke="#d0d0d0" stroke-width="1"/>
<line x1="200.5" y1="222" x2="200.5" y2="236.4" stroke="#7c7c7c" stroke-width="1" stroke-dasharray="1 1"/>
<line x1="197.67" y1="185.3" x2="203.63" y2="185.3" stroke="#6e6e6e" stroke-width="1.5"/>
<line x1="197.67" y1="236.4" x2="203.63" y2="236.4" stroke="#6e6e6e" stroke-width="1.5"/>
<rect x="194.7" y="208.4" width="11.9" height="12.8" fill="#64599f" stroke="#4d4390" stroke-width="0.8"/>
<line x1="194.6" y1="213.4" x2="206.7" y2="213.4" stroke="#2b2463" stroke-width="1.65"/>
<text transform="translate(200.65 269.95) scale(0.5)" x="0" y="0" font-size="7.8" fill="#747474" stroke="#747474" stroke-width="0.08" text-anchor="middle" textLength="23.88" lengthAdjust="spacingAndGlyphs">Normal</text>
<text transform="translate(200.65 274.75) scale(0.5)" x="0" y="0" font-size="7.8" fill="#747474" stroke="#747474" stroke-width="0.08" text-anchor="middle" textLength="21.63" lengthAdjust="spacingAndGlyphs">(n=52)</text>
<line x1="226.5" y1="200.7" x2="226.5" y2="218.3" stroke="#d0d0d0" stroke-width="1"/>
<line x1="226.5" y1="201" x2="226.5" y2="218.3" stroke="#7c7c7c" stroke-width="1" stroke-dasharray="1 1"/>
<line x1="226.5" y1="229.2" x2="226.5" y2="241.8" stroke="#d0d0d0" stroke-width="1"/>
<line x1="226.5" y1="229" x2="226.5" y2="241.8" stroke="#7c7c7c" stroke-width="1" stroke-dasharray="1 1"/>
<line x1="223.57" y1="200.7" x2="229.53" y2="200.7" stroke="#6e6e6e" stroke-width="1.5"/>
<line x1="223.57" y1="241.8" x2="229.53" y2="241.8" stroke="#6e6e6e" stroke-width="1.5"/>
<rect x="220.6" y="218.7" width="11.9" height="10.1" fill="#f28c30" stroke="#e07d25" stroke-width="0.8"/>
<line x1="220.5" y1="224.3" x2="232.6" y2="224.3" stroke="#6a3000" stroke-width="1.65"/>
<text transform="translate(226.55 269.95) scale(0.5)" x="0" y="0" font-size="7.8" fill="#747474" stroke="#747474" stroke-width="0.08" text-anchor="middle" textLength="44.76" lengthAdjust="spacingAndGlyphs">Gleason score</text>
<text transform="translate(226.55 274.75) scale(0.5)" x="0" y="0" font-size="7.8" fill="#747474" stroke="#747474" stroke-width="0.08" text-anchor="middle" textLength="4.12" lengthAdjust="spacingAndGlyphs">6</text>
<text transform="translate(226.55 279.35) scale(0.5)" x="0" y="0" font-size="7.8" fill="#747474" stroke="#747474" stroke-width="0.08" text-anchor="middle" textLength="21.63" lengthAdjust="spacingAndGlyphs">(n=45)</text>
<line x1="251.5" y1="182.1" x2="251.5" y2="209.2" stroke="#d0d0d0" stroke-width="1"/>
<line x1="251.5" y1="182" x2="251.5" y2="209.2" stroke="#7c7c7c" stroke-width="1" stroke-dasharray="1 1"/>
<line x1="251.5" y1="229.7" x2="251.5" y2="253.6" stroke="#d0d0d0" stroke-width="1"/>
<line x1="251.5" y1="230" x2="251.5" y2="253.6" stroke="#7c7c7c" stroke-width="1" stroke-dasharray="1 1"/>
<line x1="248.64" y1="182.1" x2="254.75" y2="182.1" stroke="#6e6e6e" stroke-width="1.5"/>
<line x1="248.64" y1="253.6" x2="254.75" y2="253.6" stroke="#6e6e6e" stroke-width="1.5"/>
<rect x="245.6" y="209.6" width="12.2" height="19.7" fill="#a9cd30" stroke="#98ba26" stroke-width="0.8"/>
<line x1="245.5" y1="220.1" x2="257.9" y2="220.1" stroke="#485a00" stroke-width="1.65"/>
<text transform="translate(251.7 269.95) scale(0.5)" x="0" y="0" font-size="7.8" fill="#747474" stroke="#747474" stroke-width="0.08" text-anchor="middle" textLength="44.76" lengthAdjust="spacingAndGlyphs">Gleason score</text>
<text transform="translate(251.7 274.75) scale(0.5)" x="0" y="0" font-size="7.8" fill="#747474" stroke="#747474" stroke-width="0.08" text-anchor="middle" textLength="4.12" lengthAdjust="spacingAndGlyphs">7</text>
<text transform="translate(251.7 279.35) scale(0.5)" x="0" y="0" font-size="7.8" fill="#747474" stroke="#747474" stroke-width="0.08" text-anchor="middle" textLength="24.12" lengthAdjust="spacingAndGlyphs">(n=247)</text>
<line x1="277.5" y1="189.8" x2="277.5" y2="212.1" stroke="#d0d0d0" stroke-width="1"/>
<line x1="277.5" y1="190" x2="277.5" y2="212.1" stroke="#7c7c7c" stroke-width="1" stroke-dasharray="1 1"/>
<line x1="277.5" y1="230.5" x2="277.5" y2="245.2" stroke="#d0d0d0" stroke-width="1"/>
<line x1="277.5" y1="230" x2="277.5" y2="245.2" stroke="#7c7c7c" stroke-width="1" stroke-dasharray="1 1"/>
<line x1="274.74" y1="189.8" x2="280.66" y2="189.8" stroke="#6e6e6e" stroke-width="1.5"/>
<line x1="274.74" y1="245.2" x2="280.66" y2="245.2" stroke="#6e6e6e" stroke-width="1.5"/>
<rect x="271.8" y="212.5" width="11.8" height="17.6" fill="#cc6e2e" stroke="#b86226" stroke-width="0.8"/>
<line x1="271.7" y1="222.3" x2="283.7" y2="222.3" stroke="#5a2a0a" stroke-width="1.65"/>
<text transform="translate(277.7 269.95) scale(0.5)" x="0" y="0" font-size="7.8" fill="#747474" stroke="#747474" stroke-width="0.08" text-anchor="middle" textLength="44.76" lengthAdjust="spacingAndGlyphs">Gleason score</text>
<text transform="translate(277.7 274.75) scale(0.5)" x="0" y="0" font-size="7.8" fill="#747474" stroke="#747474" stroke-width="0.08" text-anchor="middle" textLength="4.12" lengthAdjust="spacingAndGlyphs">8</text>
<text transform="translate(277.7 279.35) scale(0.5)" x="0" y="0" font-size="7.8" fill="#747474" stroke="#747474" stroke-width="0.08" text-anchor="middle" textLength="21.63" lengthAdjust="spacingAndGlyphs">(n=64)</text>
<line x1="303.5" y1="173.4" x2="303.5" y2="209.4" stroke="#d0d0d0" stroke-width="1"/>
<line x1="303.5" y1="173" x2="303.5" y2="209.4" stroke="#7c7c7c" stroke-width="1" stroke-dasharray="1 1"/>
<line x1="303.5" y1="227.8" x2="303.5" y2="245" stroke="#d0d0d0" stroke-width="1"/>
<line x1="303.5" y1="228" x2="303.5" y2="245" stroke="#7c7c7c" stroke-width="1" stroke-dasharray="1 1"/>
<line x1="300.49" y1="173.4" x2="306.51" y2="173.4" stroke="#6e6e6e" stroke-width="1.5"/>
<line x1="300.49" y1="245" x2="306.51" y2="245" stroke="#6e6e6e" stroke-width="1.5"/>
<rect x="297.5" y="209.8" width="12" height="17.6" fill="#d3479d" stroke="#c03b8c" stroke-width="0.8"/>
<line x1="297.4" y1="220.9" x2="309.6" y2="220.9" stroke="#6a1545" stroke-width="1.65"/>
<text transform="translate(303.5 269.95) scale(0.5)" x="0" y="0" font-size="7.8" fill="#747474" stroke="#747474" stroke-width="0.08" text-anchor="middle" textLength="44.76" lengthAdjust="spacingAndGlyphs">Gleason score</text>
<text transform="translate(303.5 274.75) scale(0.5)" x="0" y="0" font-size="7.8" fill="#747474" stroke="#747474" stroke-width="0.08" text-anchor="middle" textLength="4.12" lengthAdjust="spacingAndGlyphs">9</text>
<text transform="translate(303.5 279.35) scale(0.5)" x="0" y="0" font-size="7.8" fill="#747474" stroke="#747474" stroke-width="0.08" text-anchor="middle" textLength="24.12" lengthAdjust="spacingAndGlyphs">(n=136)</text>
<line x1="329.5" y1="178.8" x2="329.5" y2="180.3" stroke="#d0d0d0" stroke-width="1"/>
<line x1="329.5" y1="179" x2="329.5" y2="180.3" stroke="#7c7c7c" stroke-width="1" stroke-dasharray="1 1"/>
<line x1="329.5" y1="185.8" x2="329.5" y2="189.4" stroke="#d0d0d0" stroke-width="1"/>
<line x1="329.5" y1="186" x2="329.5" y2="189.4" stroke="#7c7c7c" stroke-width="1" stroke-dasharray="1 1"/>
<line x1="326.49" y1="178.8" x2="332.51" y2="178.8" stroke="#6e6e6e" stroke-width="1.5"/>
<line x1="326.49" y1="189.4" x2="332.51" y2="189.4" stroke="#6e6e6e" stroke-width="1.5"/>
<rect x="323.5" y="180.7" width="12" height="4.7" fill="#e23b2c" stroke="#c93224" stroke-width="0.8"/>
<line x1="323.4" y1="181.6" x2="335.6" y2="181.6" stroke="#6e160c" stroke-width="1.65"/>
<text transform="translate(329.5 269.95) scale(0.5)" x="0" y="0" font-size="7.8" fill="#747474" stroke="#747474" stroke-width="0.08" text-anchor="middle" textLength="44.76" lengthAdjust="spacingAndGlyphs">Gleason score</text>
<text transform="translate(329.5 274.75) scale(0.5)" x="0" y="0" font-size="7.8" fill="#747474" stroke="#747474" stroke-width="0.08" text-anchor="middle" textLength="8.24" lengthAdjust="spacingAndGlyphs">10</text>
<text transform="translate(329.5 279.35) scale(0.5)" x="0" y="0" font-size="7.8" fill="#747474" stroke="#747474" stroke-width="0.08" text-anchor="middle" textLength="17.51" lengthAdjust="spacingAndGlyphs">(n=4)</text>
<text transform="translate(187.4 291.6) scale(1 1.13)" x="0" y="0" font-size="5.6" fill="#333" stroke="#333" stroke-width="0.2" textLength="142.1" lengthAdjust="spacingAndGlyphs">Expression of MMP9 in PRAD based on patient&#8217;s gleason</text>
<text transform="translate(251.8 298.3) scale(1 1.13)" x="0" y="0" font-size="5.6" fill="#333" stroke="#333" stroke-width="0.2" textLength="13.2" lengthAdjust="spacingAndGlyphs">score</text>
<line x1="191.5" y1="307.3" x2="191.5" y2="399.5" stroke="#7a7a7a" stroke-width="1.3"/>
<line x1="189" y1="399.5" x2="343.5" y2="399.5" stroke="#7a7a7a" stroke-width="1.35"/>
<line x1="189" y1="307.3" x2="191.5" y2="307.3" stroke="#666" stroke-width="1.2"/>
<text x="187.9" y="308.95" font-size="4.5" fill="#807878" text-anchor="end" font-weight="normal">80</text>
<line x1="189" y1="325.64" x2="191.5" y2="325.64" stroke="#666" stroke-width="1.2"/>
<text x="187.9" y="327.29" font-size="4.5" fill="#807878" text-anchor="end" font-weight="normal">60</text>
<line x1="189" y1="343.98" x2="191.5" y2="343.98" stroke="#666" stroke-width="1.2"/>
<text x="187.9" y="345.63" font-size="4.5" fill="#807878" text-anchor="end" font-weight="normal">40</text>
<line x1="189" y1="362.32" x2="191.5" y2="362.32" stroke="#666" stroke-width="1.2"/>
<text x="187.9" y="363.97" font-size="4.5" fill="#807878" text-anchor="end" font-weight="normal">20</text>
<line x1="189" y1="380.66" x2="191.5" y2="380.66" stroke="#666" stroke-width="1.2"/>
<text x="187.9" y="382.31" font-size="4.5" fill="#807878" text-anchor="end" font-weight="normal">0</text>
<line x1="189" y1="399" x2="191.5" y2="399" stroke="#666" stroke-width="1.2"/>
<text x="187.9" y="400.65" font-size="4.5" fill="#807878" text-anchor="end" font-weight="normal">-20</text>
<text transform="translate(178 353.5) rotate(-90)" x="0" y="0" font-size="4.6" fill="#222" stroke="#222" stroke-width="0.15" font-weight="bold" text-anchor="middle" textLength="47" lengthAdjust="spacingAndGlyphs">Transcript per million</text>
<line x1="204.5" y1="372" x2="204.5" y2="378.1" stroke="#d0d0d0" stroke-width="1"/>
<line x1="204.5" y1="372" x2="204.5" y2="378.1" stroke="#7c7c7c" stroke-width="1" stroke-dasharray="1 1"/>
<line x1="204.5" y1="380.7" x2="204.5" y2="380.7" stroke="#d0d0d0" stroke-width="1"/>
<line x1="204.5" y1="381" x2="204.5" y2="380.7" stroke="#7c7c7c" stroke-width="1" stroke-dasharray="1 1"/>
<line x1="201.13" y1="372" x2="206.87" y2="372" stroke="#6e6e6e" stroke-width="1.5"/>
<line x1="201.13" y1="380.7" x2="206.87" y2="380.7" stroke="#6e6e6e" stroke-width="1.5"/>
<rect x="198.3" y="378.5" width="11.4" height="1.8" fill="#64599f" stroke="#4d4390" stroke-width="0.8"/>
<line x1="198.2" y1="379.9" x2="209.8" y2="379.9" stroke="#2b2463" stroke-width="1.65"/>
<text transform="translate(204 405.15) scale(0.5)" x="0" y="0" font-size="7.8" fill="#747474" stroke="#747474" stroke-width="0.08" text-anchor="middle" textLength="23.88" lengthAdjust="spacingAndGlyphs">Normal</text>
<text transform="translate(204 409.65) scale(0.5)" x="0" y="0" font-size="7.8" fill="#747474" stroke="#747474" stroke-width="0.08" text-anchor="middle" textLength="21.63" lengthAdjust="spacingAndGlyphs">(n=52)</text>
<line x1="229.5" y1="364.5" x2="229.5" y2="372" stroke="#d0d0d0" stroke-width="1"/>
<line x1="229.5" y1="364" x2="229.5" y2="372" stroke="#7c7c7c" stroke-width="1" stroke-dasharray="1 1"/>
<line x1="229.5" y1="379.2" x2="229.5" y2="380.4" stroke="#d0d0d0" stroke-width="1"/>
<line x1="229.5" y1="379" x2="229.5" y2="380.4" stroke="#7c7c7c" stroke-width="1" stroke-dasharray="1 1"/>
<line x1="226.39" y1="364.5" x2="232.41" y2="364.5" stroke="#6e6e6e" stroke-width="1.5"/>
<line x1="226.39" y1="380.4" x2="232.41" y2="380.4" stroke="#6e6e6e" stroke-width="1.5"/>
<rect x="223.4" y="372.4" width="12" height="6.4" fill="#f28c30" stroke="#e07d25" stroke-width="0.8"/>
<line x1="223.3" y1="375.8" x2="235.5" y2="375.8" stroke="#6a3000" stroke-width="1.65"/>
<text transform="translate(229.4 405.15) scale(0.5)" x="0" y="0" font-size="7.8" fill="#747474" stroke="#747474" stroke-width="0.08" text-anchor="middle" textLength="44.76" lengthAdjust="spacingAndGlyphs">Gleason score</text>
<text transform="translate(229.4 409.65) scale(0.5)" x="0" y="0" font-size="7.8" fill="#747474" stroke="#747474" stroke-width="0.08" text-anchor="middle" textLength="4.12" lengthAdjust="spacingAndGlyphs">6</text>
<text transform="translate(229.4 414.15) scale(0.5)" x="0" y="0" font-size="7.8" fill="#747474" stroke="#747474" stroke-width="0.08" text-anchor="middle" textLength="21.63" lengthAdjust="spacingAndGlyphs">(n=45)</text>
<line x1="254.5" y1="359.4" x2="254.5" y2="372" stroke="#d0d0d0" stroke-width="1"/>
<line x1="254.5" y1="359" x2="254.5" y2="372" stroke="#7c7c7c" stroke-width="1" stroke-dasharray="1 1"/>
<line x1="254.5" y1="378.5" x2="254.5" y2="380.4" stroke="#d0d0d0" stroke-width="1"/>
<line x1="254.5" y1="378" x2="254.5" y2="380.4" stroke="#7c7c7c" stroke-width="1" stroke-dasharray="1 1"/>
<line x1="251.71" y1="359.4" x2="257.39" y2="359.4" stroke="#6e6e6e" stroke-width="1.5"/>
<line x1="251.71" y1="380.4" x2="257.39" y2="380.4" stroke="#6e6e6e" stroke-width="1.5"/>
<rect x="248.9" y="372.4" width="11.3" height="5.7" fill="#a9cd30" stroke="#98ba26" stroke-width="0.8"/>
<line x1="248.8" y1="375.5" x2="260.3" y2="375.5" stroke="#485a00" stroke-width="1.65"/>
<text transform="translate(254.55 405.15) scale(0.5)" x="0" y="0" font-size="7.8" fill="#747474" stroke="#747474" stroke-width="0.08" text-anchor="middle" textLength="44.76" lengthAdjust="spacingAndGlyphs">Gleason score</text>
<text transform="translate(254.55 409.65) scale(0.5)" x="0" y="0" font-size="7.8" fill="#747474" stroke="#747474" stroke-width="0.08" text-anchor="middle" textLength="4.12" lengthAdjust="spacingAndGlyphs">7</text>
<text transform="translate(254.55 414.15) scale(0.5)" x="0" y="0" font-size="7.8" fill="#747474" stroke="#747474" stroke-width="0.08" text-anchor="middle" textLength="24.12" lengthAdjust="spacingAndGlyphs">(n=247)</text>
<line x1="280.5" y1="356.8" x2="280.5" y2="370.4" stroke="#d0d0d0" stroke-width="1"/>
<line x1="280.5" y1="357" x2="280.5" y2="370.4" stroke="#7c7c7c" stroke-width="1" stroke-dasharray="1 1"/>
<line x1="280.5" y1="378.8" x2="280.5" y2="380.4" stroke="#d0d0d0" stroke-width="1"/>
<line x1="280.5" y1="379" x2="280.5" y2="380.4" stroke="#7c7c7c" stroke-width="1" stroke-dasharray="1 1"/>
<line x1="277.09" y1="356.8" x2="283.11" y2="356.8" stroke="#6e6e6e" stroke-width="1.5"/>
<line x1="277.09" y1="380.4" x2="283.11" y2="380.4" stroke="#6e6e6e" stroke-width="1.5"/>
<rect x="274.1" y="370.8" width="12" height="7.6" fill="#cc6e2e" stroke="#b86226" stroke-width="0.8"/>
<line x1="274" y1="375.1" x2="286.2" y2="375.1" stroke="#5a2a0a" stroke-width="1.65"/>
<text transform="translate(280.1 405.15) scale(0.5)" x="0" y="0" font-size="7.8" fill="#747474" stroke="#747474" stroke-width="0.08" text-anchor="middle" textLength="44.76" lengthAdjust="spacingAndGlyphs">Gleason score</text>
<text transform="translate(280.1 409.65) scale(0.5)" x="0" y="0" font-size="7.8" fill="#747474" stroke="#747474" stroke-width="0.08" text-anchor="middle" textLength="4.12" lengthAdjust="spacingAndGlyphs">8</text>
<text transform="translate(280.1 414.15) scale(0.5)" x="0" y="0" font-size="7.8" fill="#747474" stroke="#747474" stroke-width="0.08" text-anchor="middle" textLength="21.63" lengthAdjust="spacingAndGlyphs">(n=64)</text>
<line x1="305.5" y1="355.4" x2="305.5" y2="370.4" stroke="#d0d0d0" stroke-width="1"/>
<line x1="305.5" y1="355" x2="305.5" y2="370.4" stroke="#7c7c7c" stroke-width="1" stroke-dasharray="1 1"/>
<line x1="305.5" y1="378.6" x2="305.5" y2="380.4" stroke="#d0d0d0" stroke-width="1"/>
<line x1="305.5" y1="379" x2="305.5" y2="380.4" stroke="#7c7c7c" stroke-width="1" stroke-dasharray="1 1"/>
<line x1="302.37" y1="355.4" x2="308.33" y2="355.4" stroke="#6e6e6e" stroke-width="1.5"/>
<line x1="302.37" y1="380.4" x2="308.33" y2="380.4" stroke="#6e6e6e" stroke-width="1.5"/>
<rect x="299.4" y="370.8" width="11.9" height="7.4" fill="#d3479d" stroke="#c03b8c" stroke-width="0.8"/>
<line x1="299.3" y1="375.5" x2="311.4" y2="375.5" stroke="#6a1545" stroke-width="1.65"/>
<text transform="translate(305.35 405.15) scale(0.5)" x="0" y="0" font-size="7.8" fill="#747474" stroke="#747474" stroke-width="0.08" text-anchor="middle" textLength="44.76" lengthAdjust="spacingAndGlyphs">Gleason score</text>
<text transform="translate(305.35 409.65) scale(0.5)" x="0" y="0" font-size="7.8" fill="#747474" stroke="#747474" stroke-width="0.08" text-anchor="middle" textLength="4.12" lengthAdjust="spacingAndGlyphs">9</text>
<text transform="translate(305.35 414.15) scale(0.5)" x="0" y="0" font-size="7.8" fill="#747474" stroke="#747474" stroke-width="0.08" text-anchor="middle" textLength="24.12" lengthAdjust="spacingAndGlyphs">(n=136)</text>
<line x1="330.5" y1="324.9" x2="330.5" y2="333.8" stroke="#d0d0d0" stroke-width="1"/>
<line x1="330.5" y1="325" x2="330.5" y2="333.8" stroke="#7c7c7c" stroke-width="1" stroke-dasharray="1 1"/>
<line x1="330.5" y1="371.5" x2="330.5" y2="377.3" stroke="#d0d0d0" stroke-width="1"/>
<line x1="330.5" y1="372" x2="330.5" y2="377.3" stroke="#7c7c7c" stroke-width="1" stroke-dasharray="1 1"/>
<line x1="327.69" y1="324.9" x2="333.51" y2="324.9" stroke="#6e6e6e" stroke-width="1.5"/>
<line x1="327.69" y1="377.3" x2="333.51" y2="377.3" stroke="#6e6e6e" stroke-width="1.5"/>
<rect x="324.8" y="334.2" width="11.6" height="36.9" fill="#e23b2c" stroke="#c93224" stroke-width="0.8"/>
<line x1="324.7" y1="353.2" x2="336.5" y2="353.2" stroke="#6e160c" stroke-width="1.65"/>
<text transform="translate(330.6 405.15) scale(0.5)" x="0" y="0" font-size="7.8" fill="#747474" stroke="#747474" stroke-width="0.08" text-anchor="middle" textLength="44.76" lengthAdjust="spacingAndGlyphs">Gleason score</text>
<text transform="translate(330.6 409.65) scale(0.5)" x="0" y="0" font-size="7.8" fill="#747474" stroke="#747474" stroke-width="0.08" text-anchor="middle" textLength="8.24" lengthAdjust="spacingAndGlyphs">10</text>
<text transform="translate(330.6 414.15) scale(0.5)" x="0" y="0" font-size="7.8" fill="#747474" stroke="#747474" stroke-width="0.08" text-anchor="middle" textLength="17.51" lengthAdjust="spacingAndGlyphs">(n=4)</text>
<text transform="translate(186.3 424.6) scale(1 1.13)" x="0" y="0" font-size="5.6" fill="#333" stroke="#333" stroke-width="0.2" textLength="151" lengthAdjust="spacingAndGlyphs">Expression of MMP2 in PRAD based on patient&#8217;s gleason</text>
<text transform="translate(254.6 430.6) scale(1 1.13)" x="0" y="0" font-size="5.6" fill="#333" stroke="#333" stroke-width="0.2" textLength="13.4" lengthAdjust="spacingAndGlyphs">score</text>
<line x1="191.5" y1="438.8" x2="191.5" y2="523.5" stroke="#7a7a7a" stroke-width="1.3"/>
<line x1="189" y1="523.5" x2="351.4" y2="523.5" stroke="#7a7a7a" stroke-width="1.35"/>
<line x1="189" y1="438.8" x2="191.5" y2="438.8" stroke="#666" stroke-width="1.2"/>
<text x="187.9" y="440.45" font-size="4.5" fill="#807878" text-anchor="end" font-weight="normal">250</text>
<line x1="189" y1="452.83" x2="191.5" y2="452.83" stroke="#666" stroke-width="1.2"/>
<text x="187.9" y="454.48" font-size="4.5" fill="#807878" text-anchor="end" font-weight="normal">200</text>
<line x1="189" y1="466.87" x2="191.5" y2="466.87" stroke="#666" stroke-width="1.2"/>
<text x="187.9" y="468.52" font-size="4.5" fill="#807878" text-anchor="end" font-weight="normal">150</text>
<line x1="189" y1="480.9" x2="191.5" y2="480.9" stroke="#666" stroke-width="1.2"/>
<text x="187.9" y="482.55" font-size="4.5" fill="#807878" text-anchor="end" font-weight="normal">100</text>
<line x1="189" y1="494.93" x2="191.5" y2="494.93" stroke="#666" stroke-width="1.2"/>
<text x="187.9" y="496.58" font-size="4.5" fill="#807878" text-anchor="end" font-weight="normal">50</text>
<line x1="189" y1="508.97" x2="191.5" y2="508.97" stroke="#666" stroke-width="1.2"/>
<text x="187.9" y="510.62" font-size="4.5" fill="#807878" text-anchor="end" font-weight="normal">0</text>
<line x1="189" y1="523" x2="191.5" y2="523" stroke="#666" stroke-width="1.2"/>
<text x="187.9" y="524.65" font-size="4.5" fill="#807878" text-anchor="end" font-weight="normal">-50</text>
<text transform="translate(176.5 481) rotate(-90)" x="0" y="0" font-size="4.6" fill="#222" stroke="#222" stroke-width="0.15" font-weight="bold" text-anchor="middle" textLength="44" lengthAdjust="spacingAndGlyphs">Transcript per million</text>
<line x1="205.5" y1="463.3" x2="205.5" y2="482" stroke="#d0d0d0" stroke-width="1"/>
<line x1="205.5" y1="463" x2="205.5" y2="482" stroke="#7c7c7c" stroke-width="1" stroke-dasharray="1 1"/>
<line x1="205.5" y1="497.7" x2="205.5" y2="502.6" stroke="#d0d0d0" stroke-width="1"/>
<line x1="205.5" y1="498" x2="205.5" y2="502.6" stroke="#7c7c7c" stroke-width="1" stroke-dasharray="1 1"/>
<line x1="201.8" y1="463.3" x2="208.2" y2="463.3" stroke="#6e6e6e" stroke-width="1.5"/>
<line x1="201.8" y1="502.6" x2="208.2" y2="502.6" stroke="#6e6e6e" stroke-width="1.5"/>
<rect x="198.6" y="482.4" width="12.8" height="14.9" fill="#64599f" stroke="#4d4390" stroke-width="0.8"/>
<line x1="198.5" y1="489.5" x2="211.5" y2="489.5" stroke="#2b2463" stroke-width="1.65"/>
<text transform="translate(205 528.35) scale(0.5)" x="0" y="0" font-size="7.8" fill="#747474" stroke="#747474" stroke-width="0.08" text-anchor="middle" textLength="23.88" lengthAdjust="spacingAndGlyphs">Normal</text>
<text transform="translate(205 532.65) scale(0.5)" x="0" y="0" font-size="7.8" fill="#747474" stroke="#747474" stroke-width="0.08" text-anchor="middle" textLength="21.63" lengthAdjust="spacingAndGlyphs">(n=52)</text>
<line x1="231.5" y1="487.8" x2="231.5" y2="498.6" stroke="#d0d0d0" stroke-width="1"/>
<line x1="231.5" y1="488" x2="231.5" y2="498.6" stroke="#7c7c7c" stroke-width="1" stroke-dasharray="1 1"/>
<line x1="231.5" y1="500.9" x2="231.5" y2="506.1" stroke="#d0d0d0" stroke-width="1"/>
<line x1="231.5" y1="501" x2="231.5" y2="506.1" stroke="#7c7c7c" stroke-width="1" stroke-dasharray="1 1"/>
<line x1="228.66" y1="487.8" x2="235.14" y2="487.8" stroke="#6e6e6e" stroke-width="1.5"/>
<line x1="228.66" y1="506.1" x2="235.14" y2="506.1" stroke="#6e6e6e" stroke-width="1.5"/>
<rect x="225.4" y="499" width="13" height="1.5" fill="#f28c30" stroke="#e07d25" stroke-width="0.8"/>
<line x1="225.3" y1="499.8" x2="238.5" y2="499.8" stroke="#6a3000" stroke-width="1.65"/>
<text transform="translate(231.9 528.35) scale(0.5)" x="0" y="0" font-size="7.8" fill="#747474" stroke="#747474" stroke-width="0.08" text-anchor="middle" textLength="44.76" lengthAdjust="spacingAndGlyphs">Gleason score</text>
<text transform="translate(231.9 532.65) scale(0.5)" x="0" y="0" font-size="7.8" fill="#747474" stroke="#747474" stroke-width="0.08" text-anchor="middle" textLength="4.12" lengthAdjust="spacingAndGlyphs">6</text>
<text transform="translate(231.9 536.85) scale(0.5)" x="0" y="0" font-size="7.8" fill="#747474" stroke="#747474" stroke-width="0.08" text-anchor="middle" textLength="21.63" lengthAdjust="spacingAndGlyphs">(n=45)</text>
<line x1="258.5" y1="475.4" x2="258.5" y2="491.8" stroke="#d0d0d0" stroke-width="1"/>
<line x1="258.5" y1="475" x2="258.5" y2="491.8" stroke="#7c7c7c" stroke-width="1" stroke-dasharray="1 1"/>
<line x1="258.5" y1="501.7" x2="258.5" y2="508.1" stroke="#d0d0d0" stroke-width="1"/>
<line x1="258.5" y1="502" x2="258.5" y2="508.1" stroke="#7c7c7c" stroke-width="1" stroke-dasharray="1 1"/>
<line x1="255.42" y1="475.4" x2="261.68" y2="475.4" stroke="#6e6e6e" stroke-width="1.5"/>
<line x1="255.42" y1="508.1" x2="261.68" y2="508.1" stroke="#6e6e6e" stroke-width="1.5"/>
<rect x="252.3" y="492.2" width="12.5" height="9.1" fill="#a9cd30" stroke="#98ba26" stroke-width="0.8"/>
<line x1="252.2" y1="496.8" x2="264.9" y2="496.8" stroke="#485a00" stroke-width="1.65"/>
<text transform="translate(258.55 528.35) scale(0.5)" x="0" y="0" font-size="7.8" fill="#747474" stroke="#747474" stroke-width="0.08" text-anchor="middle" textLength="44.76" lengthAdjust="spacingAndGlyphs">Gleason score</text>
<text transform="translate(258.55 532.65) scale(0.5)" x="0" y="0" font-size="7.8" fill="#747474" stroke="#747474" stroke-width="0.08" text-anchor="middle" textLength="4.12" lengthAdjust="spacingAndGlyphs">7</text>
<text transform="translate(258.55 536.85) scale(0.5)" x="0" y="0" font-size="7.8" fill="#747474" stroke="#747474" stroke-width="0.08" text-anchor="middle" textLength="24.12" lengthAdjust="spacingAndGlyphs">(n=247)</text>
<line x1="285.5" y1="476.3" x2="285.5" y2="492.2" stroke="#d0d0d0" stroke-width="1"/>
<line x1="285.5" y1="476" x2="285.5" y2="492.2" stroke="#7c7c7c" stroke-width="1" stroke-dasharray="1 1"/>
<line x1="285.5" y1="502.6" x2="285.5" y2="508.1" stroke="#d0d0d0" stroke-width="1"/>
<line x1="285.5" y1="503" x2="285.5" y2="508.1" stroke="#7c7c7c" stroke-width="1" stroke-dasharray="1 1"/>
<line x1="282.37" y1="476.3" x2="288.53" y2="476.3" stroke="#6e6e6e" stroke-width="1.5"/>
<line x1="282.37" y1="508.1" x2="288.53" y2="508.1" stroke="#6e6e6e" stroke-width="1.5"/>
<rect x="279.3" y="492.6" width="12.3" height="9.6" fill="#cc6e2e" stroke="#b86226" stroke-width="0.8"/>
<line x1="279.2" y1="497.7" x2="291.7" y2="497.7" stroke="#5a2a0a" stroke-width="1.65"/>
<text transform="translate(285.45 528.35) scale(0.5)" x="0" y="0" font-size="7.8" fill="#747474" stroke="#747474" stroke-width="0.08" text-anchor="middle" textLength="44.76" lengthAdjust="spacingAndGlyphs">Gleason score</text>
<text transform="translate(285.45 532.65) scale(0.5)" x="0" y="0" font-size="7.8" fill="#747474" stroke="#747474" stroke-width="0.08" text-anchor="middle" textLength="4.12" lengthAdjust="spacingAndGlyphs">8</text>
<text transform="translate(285.45 536.85) scale(0.5)" x="0" y="0" font-size="7.8" fill="#747474" stroke="#747474" stroke-width="0.08" text-anchor="middle" textLength="21.63" lengthAdjust="spacingAndGlyphs">(n=64)</text>
<line x1="312.5" y1="460.2" x2="312.5" y2="484.4" stroke="#d0d0d0" stroke-width="1"/>
<line x1="312.5" y1="460" x2="312.5" y2="484.4" stroke="#7c7c7c" stroke-width="1" stroke-dasharray="1 1"/>
<line x1="312.5" y1="500.4" x2="312.5" y2="507.7" stroke="#d0d0d0" stroke-width="1"/>
<line x1="312.5" y1="500" x2="312.5" y2="507.7" stroke="#7c7c7c" stroke-width="1" stroke-dasharray="1 1"/>
<line x1="308.98" y1="460.2" x2="315.32" y2="460.2" stroke="#6e6e6e" stroke-width="1.5"/>
<line x1="308.98" y1="507.7" x2="315.32" y2="507.7" stroke="#6e6e6e" stroke-width="1.5"/>
<rect x="305.8" y="484.8" width="12.7" height="15.2" fill="#d3479d" stroke="#c03b8c" stroke-width="0.8"/>
<line x1="305.7" y1="494" x2="318.6" y2="494" stroke="#6a1545" stroke-width="1.65"/>
<text transform="translate(312.15 528.35) scale(0.5)" x="0" y="0" font-size="7.8" fill="#747474" stroke="#747474" stroke-width="0.08" text-anchor="middle" textLength="44.76" lengthAdjust="spacingAndGlyphs">Gleason score</text>
<text transform="translate(312.15 532.65) scale(0.5)" x="0" y="0" font-size="7.8" fill="#747474" stroke="#747474" stroke-width="0.08" text-anchor="middle" textLength="4.12" lengthAdjust="spacingAndGlyphs">9</text>
<text transform="translate(312.15 536.85) scale(0.5)" x="0" y="0" font-size="7.8" fill="#747474" stroke="#747474" stroke-width="0.08" text-anchor="middle" textLength="24.12" lengthAdjust="spacingAndGlyphs">(n=136)</text>
<line x1="338.5" y1="450.2" x2="338.5" y2="474.3" stroke="#d0d0d0" stroke-width="1"/>
<line x1="338.5" y1="450" x2="338.5" y2="474.3" stroke="#7c7c7c" stroke-width="1" stroke-dasharray="1 1"/>
<line x1="338.5" y1="499.5" x2="338.5" y2="502.3" stroke="#d0d0d0" stroke-width="1"/>
<line x1="338.5" y1="500" x2="338.5" y2="502.3" stroke="#7c7c7c" stroke-width="1" stroke-dasharray="1 1"/>
<line x1="335.3" y1="450.2" x2="341.5" y2="450.2" stroke="#6e6e6e" stroke-width="1.5"/>
<line x1="335.3" y1="502.3" x2="341.5" y2="502.3" stroke="#6e6e6e" stroke-width="1.5"/>
<rect x="332.2" y="474.7" width="12.4" height="24.4" fill="#e23b2c" stroke="#c93224" stroke-width="0.8"/>
<line x1="332.1" y1="490.4" x2="344.7" y2="490.4" stroke="#6e160c" stroke-width="1.65"/>
<text transform="translate(338.4 528.35) scale(0.5)" x="0" y="0" font-size="7.8" fill="#747474" stroke="#747474" stroke-width="0.08" text-anchor="middle" textLength="44.76" lengthAdjust="spacingAndGlyphs">Gleason score</text>
<text transform="translate(338.4 532.65) scale(0.5)" x="0" y="0" font-size="7.8" fill="#747474" stroke="#747474" stroke-width="0.08" text-anchor="middle" textLength="8.24" lengthAdjust="spacingAndGlyphs">10</text>
<text transform="translate(338.4 536.85) scale(0.5)" x="0" y="0" font-size="7.8" fill="#747474" stroke="#747474" stroke-width="0.08" text-anchor="middle" textLength="17.51" lengthAdjust="spacingAndGlyphs">(n=4)</text>
<text transform="translate(181.6 550.3) scale(1 1.13)" x="0" y="0" font-size="5.6" fill="#333" stroke="#333" stroke-width="0.2" textLength="166.7" lengthAdjust="spacingAndGlyphs">Expression of HGF in PRAD based on patient&#8217;s gleason score</text>
<line x1="193.5" y1="559.2" x2="193.5" y2="659.5" stroke="#7a7a7a" stroke-width="1.3"/>
<line x1="191" y1="659.5" x2="355.6" y2="659.5" stroke="#7a7a7a" stroke-width="1.35"/>
<line x1="191" y1="559.2" x2="193.5" y2="559.2" stroke="#666" stroke-width="1.2"/>
<text x="189.9" y="560.85" font-size="4.5" fill="#807878" text-anchor="end" font-weight="normal">15</text>
<line x1="191" y1="573.5" x2="193.5" y2="573.5" stroke="#666" stroke-width="1.2"/>
<text x="189.9" y="575.15" font-size="4.5" fill="#807878" text-anchor="end" font-weight="normal">12.5</text>
<line x1="191" y1="587.8" x2="193.5" y2="587.8" stroke="#666" stroke-width="1.2"/>
<text x="189.9" y="589.45" font-size="4.5" fill="#807878" text-anchor="end" font-weight="normal">10</text>
<line x1="191" y1="602.1" x2="193.5" y2="602.1" stroke="#666" stroke-width="1.2"/>
<text x="189.9" y="603.75" font-size="4.5" fill="#807878" text-anchor="end" font-weight="normal">7.5</text>
<line x1="191" y1="616.4" x2="193.5" y2="616.4" stroke="#666" stroke-width="1.2"/>
<text x="189.9" y="618.05" font-size="4.5" fill="#807878" text-anchor="end" font-weight="normal">5</text>
<line x1="191" y1="630.7" x2="193.5" y2="630.7" stroke="#666" stroke-width="1.2"/>
<text x="189.9" y="632.35" font-size="4.5" fill="#807878" text-anchor="end" font-weight="normal">2.5</text>
<line x1="191" y1="645" x2="193.5" y2="645" stroke="#666" stroke-width="1.2"/>
<text x="189.9" y="646.65" font-size="4.5" fill="#807878" text-anchor="end" font-weight="normal">0</text>
<line x1="191" y1="659.3" x2="193.5" y2="659.3" stroke="#666" stroke-width="1.2"/>
<text x="189.9" y="660.95" font-size="4.5" fill="#807878" text-anchor="end" font-weight="normal">-2.5</text>
<text transform="translate(177.3 609.5) rotate(-90)" x="0" y="0" font-size="4.6" fill="#222" stroke="#222" stroke-width="0.15" font-weight="bold" text-anchor="middle" textLength="48" lengthAdjust="spacingAndGlyphs">Transcript per million</text>
<line x1="207.5" y1="575.5" x2="207.5" y2="615.1" stroke="#d0d0d0" stroke-width="1"/>
<line x1="207.5" y1="576" x2="207.5" y2="615.1" stroke="#7c7c7c" stroke-width="1" stroke-dasharray="1 1"/>
<line x1="207.5" y1="639.1" x2="207.5" y2="643.1" stroke="#d0d0d0" stroke-width="1"/>
<line x1="207.5" y1="639" x2="207.5" y2="643.1" stroke="#7c7c7c" stroke-width="1" stroke-dasharray="1 1"/>
<line x1="204.27" y1="575.5" x2="210.43" y2="575.5" stroke="#6e6e6e" stroke-width="1.5"/>
<line x1="204.27" y1="643.1" x2="210.43" y2="643.1" stroke="#6e6e6e" stroke-width="1.5"/>
<rect x="201.2" y="615.5" width="12.3" height="23.2" fill="#64599f" stroke="#4d4390" stroke-width="0.8"/>
<line x1="201.1" y1="631.8" x2="213.6" y2="631.8" stroke="#2b2463" stroke-width="1.65"/>
<text transform="translate(207.35 665.55) scale(0.5)" x="0" y="0" font-size="7.8" fill="#747474" stroke="#747474" stroke-width="0.08" text-anchor="middle" textLength="23.88" lengthAdjust="spacingAndGlyphs">Normal</text>
<text transform="translate(207.35 670.25) scale(0.5)" x="0" y="0" font-size="7.8" fill="#747474" stroke="#747474" stroke-width="0.08" text-anchor="middle" textLength="21.63" lengthAdjust="spacingAndGlyphs">(n=52)</text>
<line x1="235.5" y1="620.9" x2="235.5" y2="633.8" stroke="#d0d0d0" stroke-width="1"/>
<line x1="235.5" y1="621" x2="235.5" y2="633.8" stroke="#7c7c7c" stroke-width="1" stroke-dasharray="1 1"/>
<line x1="235.5" y1="641" x2="235.5" y2="642.6" stroke="#d0d0d0" stroke-width="1"/>
<line x1="235.5" y1="641" x2="235.5" y2="642.6" stroke="#7c7c7c" stroke-width="1" stroke-dasharray="1 1"/>
<line x1="231.9" y1="620.9" x2="238.3" y2="620.9" stroke="#6e6e6e" stroke-width="1.5"/>
<line x1="231.9" y1="642.6" x2="238.3" y2="642.6" stroke="#6e6e6e" stroke-width="1.5"/>
<rect x="228.7" y="634.2" width="12.8" height="6.4" fill="#f28c30" stroke="#e07d25" stroke-width="0.8"/>
<line x1="228.6" y1="637" x2="241.6" y2="637" stroke="#6a3000" stroke-width="1.65"/>
<text transform="translate(235.1 665.55) scale(0.5)" x="0" y="0" font-size="7.8" fill="#747474" stroke="#747474" stroke-width="0.08" text-anchor="middle" textLength="44.76" lengthAdjust="spacingAndGlyphs">Gleason score</text>
<text transform="translate(235.1 670.25) scale(0.5)" x="0" y="0" font-size="7.8" fill="#747474" stroke="#747474" stroke-width="0.08" text-anchor="middle" textLength="4.12" lengthAdjust="spacingAndGlyphs">6</text>
<text transform="translate(235.1 674.75) scale(0.5)" x="0" y="0" font-size="7.8" fill="#747474" stroke="#747474" stroke-width="0.08" text-anchor="middle" textLength="21.63" lengthAdjust="spacingAndGlyphs">(n=45)</text>
<line x1="262.5" y1="600.3" x2="262.5" y2="625.9" stroke="#d0d0d0" stroke-width="1"/>
<line x1="262.5" y1="600" x2="262.5" y2="625.9" stroke="#7c7c7c" stroke-width="1" stroke-dasharray="1 1"/>
<line x1="262.5" y1="640.1" x2="262.5" y2="644.7" stroke="#d0d0d0" stroke-width="1"/>
<line x1="262.5" y1="640" x2="262.5" y2="644.7" stroke="#7c7c7c" stroke-width="1" stroke-dasharray="1 1"/>
<line x1="259.02" y1="600.3" x2="265.28" y2="600.3" stroke="#6e6e6e" stroke-width="1.5"/>
<line x1="259.02" y1="644.7" x2="265.28" y2="644.7" stroke="#6e6e6e" stroke-width="1.5"/>
<rect x="255.9" y="626.3" width="12.5" height="13.4" fill="#a9cd30" stroke="#98ba26" stroke-width="0.8"/>
<line x1="255.8" y1="634.4" x2="268.5" y2="634.4" stroke="#485a00" stroke-width="1.65"/>
<text transform="translate(262.15 665.55) scale(0.5)" x="0" y="0" font-size="7.8" fill="#747474" stroke="#747474" stroke-width="0.08" text-anchor="middle" textLength="44.76" lengthAdjust="spacingAndGlyphs">Gleason score</text>
<text transform="translate(262.15 670.25) scale(0.5)" x="0" y="0" font-size="7.8" fill="#747474" stroke="#747474" stroke-width="0.08" text-anchor="middle" textLength="4.12" lengthAdjust="spacingAndGlyphs">7</text>
<text transform="translate(262.15 674.75) scale(0.5)" x="0" y="0" font-size="7.8" fill="#747474" stroke="#747474" stroke-width="0.08" text-anchor="middle" textLength="24.12" lengthAdjust="spacingAndGlyphs">(n=247)</text>
<line x1="289.5" y1="603" x2="289.5" y2="627.3" stroke="#d0d0d0" stroke-width="1"/>
<line x1="289.5" y1="603" x2="289.5" y2="627.3" stroke="#7c7c7c" stroke-width="1" stroke-dasharray="1 1"/>
<line x1="289.5" y1="641.4" x2="289.5" y2="644.5" stroke="#d0d0d0" stroke-width="1"/>
<line x1="289.5" y1="641" x2="289.5" y2="644.5" stroke="#7c7c7c" stroke-width="1" stroke-dasharray="1 1"/>
<line x1="286.37" y1="603" x2="292.53" y2="603" stroke="#6e6e6e" stroke-width="1.5"/>
<line x1="286.37" y1="644.5" x2="292.53" y2="644.5" stroke="#6e6e6e" stroke-width="1.5"/>
<rect x="283.3" y="627.7" width="12.3" height="13.3" fill="#cc6e2e" stroke="#b86226" stroke-width="0.8"/>
<line x1="283.2" y1="635.9" x2="295.7" y2="635.9" stroke="#5a2a0a" stroke-width="1.65"/>
<text transform="translate(289.45 665.55) scale(0.5)" x="0" y="0" font-size="7.8" fill="#747474" stroke="#747474" stroke-width="0.08" text-anchor="middle" textLength="44.76" lengthAdjust="spacingAndGlyphs">Gleason score</text>
<text transform="translate(289.45 670.25) scale(0.5)" x="0" y="0" font-size="7.8" fill="#747474" stroke="#747474" stroke-width="0.08" text-anchor="middle" textLength="4.12" lengthAdjust="spacingAndGlyphs">8</text>
<text transform="translate(289.45 674.75) scale(0.5)" x="0" y="0" font-size="7.8" fill="#747474" stroke="#747474" stroke-width="0.08" text-anchor="middle" textLength="21.63" lengthAdjust="spacingAndGlyphs">(n=64)</text>
<line x1="316.5" y1="603.9" x2="316.5" y2="625.3" stroke="#d0d0d0" stroke-width="1"/>
<line x1="316.5" y1="604" x2="316.5" y2="625.3" stroke="#7c7c7c" stroke-width="1" stroke-dasharray="1 1"/>
<line x1="316.5" y1="639" x2="316.5" y2="644.5" stroke="#d0d0d0" stroke-width="1"/>
<line x1="316.5" y1="639" x2="316.5" y2="644.5" stroke="#7c7c7c" stroke-width="1" stroke-dasharray="1 1"/>
<line x1="313.82" y1="603.9" x2="320.08" y2="603.9" stroke="#6e6e6e" stroke-width="1.5"/>
<line x1="313.82" y1="644.5" x2="320.08" y2="644.5" stroke="#6e6e6e" stroke-width="1.5"/>
<rect x="310.7" y="625.7" width="12.5" height="12.9" fill="#d3479d" stroke="#c03b8c" stroke-width="0.8"/>
<line x1="310.6" y1="633.2" x2="323.3" y2="633.2" stroke="#6a1545" stroke-width="1.65"/>
<text transform="translate(316.95 665.55) scale(0.5)" x="0" y="0" font-size="7.8" fill="#747474" stroke="#747474" stroke-width="0.08" text-anchor="middle" textLength="44.76" lengthAdjust="spacingAndGlyphs">Gleason score</text>
<text transform="translate(316.95 670.25) scale(0.5)" x="0" y="0" font-size="7.8" fill="#747474" stroke="#747474" stroke-width="0.08" text-anchor="middle" textLength="4.12" lengthAdjust="spacingAndGlyphs">9</text>
<text transform="translate(316.95 674.75) scale(0.5)" x="0" y="0" font-size="7.8" fill="#747474" stroke="#747474" stroke-width="0.08" text-anchor="middle" textLength="24.12" lengthAdjust="spacingAndGlyphs">(n=136)</text>
<line x1="343.5" y1="595.2" x2="343.5" y2="601.2" stroke="#d0d0d0" stroke-width="1"/>
<line x1="343.5" y1="595" x2="343.5" y2="601.2" stroke="#7c7c7c" stroke-width="1" stroke-dasharray="1 1"/>
<line x1="343.5" y1="628.5" x2="343.5" y2="643.8" stroke="#d0d0d0" stroke-width="1"/>
<line x1="343.5" y1="628" x2="343.5" y2="643.8" stroke="#7c7c7c" stroke-width="1" stroke-dasharray="1 1"/>
<line x1="340.73" y1="595.2" x2="347.17" y2="595.2" stroke="#6e6e6e" stroke-width="1.5"/>
<line x1="340.73" y1="643.8" x2="347.17" y2="643.8" stroke="#6e6e6e" stroke-width="1.5"/>
<rect x="337.5" y="601.6" width="12.9" height="26.5" fill="#e23b2c" stroke="#c93224" stroke-width="0.8"/>
<line x1="337.4" y1="612.7" x2="350.5" y2="612.7" stroke="#6e160c" stroke-width="1.65"/>
<text transform="translate(343.95 665.55) scale(0.5)" x="0" y="0" font-size="7.8" fill="#747474" stroke="#747474" stroke-width="0.08" text-anchor="middle" textLength="44.76" lengthAdjust="spacingAndGlyphs">Gleason score</text>
<text transform="translate(343.95 670.25) scale(0.5)" x="0" y="0" font-size="7.8" fill="#747474" stroke="#747474" stroke-width="0.08" text-anchor="middle" textLength="8.24" lengthAdjust="spacingAndGlyphs">10</text>
<text transform="translate(343.95 674.75) scale(0.5)" x="0" y="0" font-size="7.8" fill="#747474" stroke="#747474" stroke-width="0.08" text-anchor="middle" textLength="17.51" lengthAdjust="spacingAndGlyphs">(n=4)</text>
<text transform="translate(186.1 686.8) scale(1 1.13)" x="0" y="0" font-size="5.6" fill="#333" stroke="#333" stroke-width="0.2" textLength="165.1" lengthAdjust="spacingAndGlyphs">Expression of MET in PRAD based on patient&#8217;s gleason score</text>
<line x1="196.5" y1="695.4" x2="196.5" y2="785.5" stroke="#7a7a7a" stroke-width="1.3"/>
<line x1="194" y1="785.5" x2="361.2" y2="785.5" stroke="#7a7a7a" stroke-width="1.35"/>
<line x1="194" y1="695.4" x2="196.5" y2="695.4" stroke="#666" stroke-width="1.2"/>
<text x="192.9" y="697.05" font-size="4.5" fill="#807878" text-anchor="end" font-weight="normal">40</text>
<line x1="194" y1="713.38" x2="196.5" y2="713.38" stroke="#666" stroke-width="1.2"/>
<text x="192.9" y="715.03" font-size="4.5" fill="#807878" text-anchor="end" font-weight="normal">30</text>
<line x1="194" y1="731.36" x2="196.5" y2="731.36" stroke="#666" stroke-width="1.2"/>
<text x="192.9" y="733.01" font-size="4.5" fill="#807878" text-anchor="end" font-weight="normal">20</text>
<line x1="194" y1="749.34" x2="196.5" y2="749.34" stroke="#666" stroke-width="1.2"/>
<text x="192.9" y="750.99" font-size="4.5" fill="#807878" text-anchor="end" font-weight="normal">10</text>
<line x1="194" y1="767.32" x2="196.5" y2="767.32" stroke="#666" stroke-width="1.2"/>
<text x="192.9" y="768.97" font-size="4.5" fill="#807878" text-anchor="end" font-weight="normal">0</text>
<line x1="194" y1="785.3" x2="196.5" y2="785.3" stroke="#666" stroke-width="1.2"/>
<text x="192.9" y="786.95" font-size="4.5" fill="#807878" text-anchor="end" font-weight="normal">-10</text>
<text transform="translate(181.3 740.2) rotate(-90)" x="0" y="0" font-size="4.6" fill="#222" stroke="#222" stroke-width="0.15" font-weight="bold" text-anchor="middle" textLength="43.3" lengthAdjust="spacingAndGlyphs">Transcript per million</text>
<line x1="209.5" y1="713.9" x2="209.5" y2="735.2" stroke="#d0d0d0" stroke-width="1"/>
<line x1="209.5" y1="714" x2="209.5" y2="735.2" stroke="#7c7c7c" stroke-width="1" stroke-dasharray="1 1"/>
<line x1="209.5" y1="752.9" x2="209.5" y2="766.2" stroke="#d0d0d0" stroke-width="1"/>
<line x1="209.5" y1="753" x2="209.5" y2="766.2" stroke="#7c7c7c" stroke-width="1" stroke-dasharray="1 1"/>
<line x1="206.68" y1="713.9" x2="213.02" y2="713.9" stroke="#6e6e6e" stroke-width="1.5"/>
<line x1="206.68" y1="766.2" x2="213.02" y2="766.2" stroke="#6e6e6e" stroke-width="1.5"/>
<rect x="203.5" y="735.6" width="12.7" height="16.9" fill="#64599f" stroke="#4d4390" stroke-width="0.8"/>
<line x1="203.4" y1="742.5" x2="216.3" y2="742.5" stroke="#2b2463" stroke-width="1.65"/>
<text transform="translate(209.85 790.85) scale(0.5)" x="0" y="0" font-size="7.8" fill="#747474" stroke="#747474" stroke-width="0.08" text-anchor="middle" textLength="23.88" lengthAdjust="spacingAndGlyphs">Normal</text>
<text transform="translate(209.85 795.05) scale(0.5)" x="0" y="0" font-size="7.8" fill="#747474" stroke="#747474" stroke-width="0.08" text-anchor="middle" textLength="21.63" lengthAdjust="spacingAndGlyphs">(n=52)</text>
<line x1="237.5" y1="741.3" x2="237.5" y2="753.7" stroke="#d0d0d0" stroke-width="1"/>
<line x1="237.5" y1="741" x2="237.5" y2="753.7" stroke="#7c7c7c" stroke-width="1" stroke-dasharray="1 1"/>
<line x1="237.5" y1="762.4" x2="237.5" y2="765.3" stroke="#d0d0d0" stroke-width="1"/>
<line x1="237.5" y1="762" x2="237.5" y2="765.3" stroke="#7c7c7c" stroke-width="1" stroke-dasharray="1 1"/>
<line x1="234.38" y1="741.3" x2="240.72" y2="741.3" stroke="#6e6e6e" stroke-width="1.5"/>
<line x1="234.38" y1="765.3" x2="240.72" y2="765.3" stroke="#6e6e6e" stroke-width="1.5"/>
<rect x="231.2" y="754.1" width="12.7" height="7.9" fill="#f28c30" stroke="#e07d25" stroke-width="0.8"/>
<line x1="231.1" y1="760.3" x2="244" y2="760.3" stroke="#6a3000" stroke-width="1.65"/>
<text transform="translate(237.55 790.85) scale(0.5)" x="0" y="0" font-size="7.8" fill="#747474" stroke="#747474" stroke-width="0.08" text-anchor="middle" textLength="44.76" lengthAdjust="spacingAndGlyphs">Gleason score</text>
<text transform="translate(237.55 795.05) scale(0.5)" x="0" y="0" font-size="7.8" fill="#747474" stroke="#747474" stroke-width="0.08" text-anchor="middle" textLength="4.12" lengthAdjust="spacingAndGlyphs">6</text>
<text transform="translate(237.55 799.25) scale(0.5)" x="0" y="0" font-size="7.8" fill="#747474" stroke="#747474" stroke-width="0.08" text-anchor="middle" textLength="21.63" lengthAdjust="spacingAndGlyphs">(n=45)</text>
<line x1="264.5" y1="728.3" x2="264.5" y2="749.4" stroke="#d0d0d0" stroke-width="1"/>
<line x1="264.5" y1="728" x2="264.5" y2="749.4" stroke="#7c7c7c" stroke-width="1" stroke-dasharray="1 1"/>
<line x1="264.5" y1="762.3" x2="264.5" y2="766.3" stroke="#d0d0d0" stroke-width="1"/>
<line x1="264.5" y1="762" x2="264.5" y2="766.3" stroke="#7c7c7c" stroke-width="1" stroke-dasharray="1 1"/>
<line x1="261.75" y1="728.3" x2="268.05" y2="728.3" stroke="#6e6e6e" stroke-width="1.5"/>
<line x1="261.75" y1="766.3" x2="268.05" y2="766.3" stroke="#6e6e6e" stroke-width="1.5"/>
<rect x="258.6" y="749.8" width="12.6" height="12.1" fill="#a9cd30" stroke="#98ba26" stroke-width="0.8"/>
<line x1="258.5" y1="758.1" x2="271.3" y2="758.1" stroke="#485a00" stroke-width="1.65"/>
<text transform="translate(264.9 790.85) scale(0.5)" x="0" y="0" font-size="7.8" fill="#747474" stroke="#747474" stroke-width="0.08" text-anchor="middle" textLength="44.76" lengthAdjust="spacingAndGlyphs">Gleason score</text>
<text transform="translate(264.9 795.05) scale(0.5)" x="0" y="0" font-size="7.8" fill="#747474" stroke="#747474" stroke-width="0.08" text-anchor="middle" textLength="4.12" lengthAdjust="spacingAndGlyphs">7</text>
<text transform="translate(264.9 799.25) scale(0.5)" x="0" y="0" font-size="7.8" fill="#747474" stroke="#747474" stroke-width="0.08" text-anchor="middle" textLength="24.12" lengthAdjust="spacingAndGlyphs">(n=247)</text>
<line x1="292.5" y1="718.8" x2="292.5" y2="745.9" stroke="#d0d0d0" stroke-width="1"/>
<line x1="292.5" y1="719" x2="292.5" y2="745.9" stroke="#7c7c7c" stroke-width="1" stroke-dasharray="1 1"/>
<line x1="292.5" y1="762.3" x2="292.5" y2="766.9" stroke="#d0d0d0" stroke-width="1"/>
<line x1="292.5" y1="762" x2="292.5" y2="766.9" stroke="#7c7c7c" stroke-width="1" stroke-dasharray="1 1"/>
<line x1="289.23" y1="718.8" x2="295.67" y2="718.8" stroke="#6e6e6e" stroke-width="1.5"/>
<line x1="289.23" y1="766.9" x2="295.67" y2="766.9" stroke="#6e6e6e" stroke-width="1.5"/>
<rect x="286" y="746.3" width="12.9" height="15.6" fill="#cc6e2e" stroke="#b86226" stroke-width="0.8"/>
<line x1="285.9" y1="757.6" x2="299" y2="757.6" stroke="#5a2a0a" stroke-width="1.65"/>
<text transform="translate(292.45 790.85) scale(0.5)" x="0" y="0" font-size="7.8" fill="#747474" stroke="#747474" stroke-width="0.08" text-anchor="middle" textLength="44.76" lengthAdjust="spacingAndGlyphs">Gleason score</text>
<text transform="translate(292.45 795.05) scale(0.5)" x="0" y="0" font-size="7.8" fill="#747474" stroke="#747474" stroke-width="0.08" text-anchor="middle" textLength="4.12" lengthAdjust="spacingAndGlyphs">8</text>
<text transform="translate(292.45 799.25) scale(0.5)" x="0" y="0" font-size="7.8" fill="#747474" stroke="#747474" stroke-width="0.08" text-anchor="middle" textLength="21.63" lengthAdjust="spacingAndGlyphs">(n=64)</text>
<line x1="319.5" y1="734.4" x2="319.5" y2="750.8" stroke="#d0d0d0" stroke-width="1"/>
<line x1="319.5" y1="734" x2="319.5" y2="750.8" stroke="#7c7c7c" stroke-width="1" stroke-dasharray="1 1"/>
<line x1="319.5" y1="762.7" x2="319.5" y2="766" stroke="#d0d0d0" stroke-width="1"/>
<line x1="319.5" y1="763" x2="319.5" y2="766" stroke="#7c7c7c" stroke-width="1" stroke-dasharray="1 1"/>
<line x1="316.55" y1="734.4" x2="322.85" y2="734.4" stroke="#6e6e6e" stroke-width="1.5"/>
<line x1="316.55" y1="766" x2="322.85" y2="766" stroke="#6e6e6e" stroke-width="1.5"/>
<rect x="313.4" y="751.2" width="12.6" height="11.1" fill="#d3479d" stroke="#c03b8c" stroke-width="0.8"/>
<line x1="313.3" y1="758.1" x2="326.1" y2="758.1" stroke="#6a1545" stroke-width="1.65"/>
<text transform="translate(319.7 790.85) scale(0.5)" x="0" y="0" font-size="7.8" fill="#747474" stroke="#747474" stroke-width="0.08" text-anchor="middle" textLength="44.76" lengthAdjust="spacingAndGlyphs">Gleason score</text>
<text transform="translate(319.7 795.05) scale(0.5)" x="0" y="0" font-size="7.8" fill="#747474" stroke="#747474" stroke-width="0.08" text-anchor="middle" textLength="4.12" lengthAdjust="spacingAndGlyphs">9</text>
<text transform="translate(319.7 799.25) scale(0.5)" x="0" y="0" font-size="7.8" fill="#747474" stroke="#747474" stroke-width="0.08" text-anchor="middle" textLength="24.12" lengthAdjust="spacingAndGlyphs">(n=136)</text>
<line x1="347.5" y1="756" x2="347.5" y2="756.3" stroke="#d0d0d0" stroke-width="1"/>
<line x1="347.5" y1="756" x2="347.5" y2="756.3" stroke="#7c7c7c" stroke-width="1" stroke-dasharray="1 1"/>
<line x1="347.5" y1="760.2" x2="347.5" y2="761.9" stroke="#d0d0d0" stroke-width="1"/>
<line x1="347.5" y1="760" x2="347.5" y2="761.9" stroke="#7c7c7c" stroke-width="1" stroke-dasharray="1 1"/>
<line x1="344.15" y1="756" x2="350.45" y2="756" stroke="#6e6e6e" stroke-width="1.5"/>
<line x1="344.15" y1="761.9" x2="350.45" y2="761.9" stroke="#6e6e6e" stroke-width="1.5"/>
<rect x="341" y="756.7" width="12.6" height="3.1" fill="#e23b2c" stroke="#c93224" stroke-width="0.8"/>
<line x1="340.9" y1="758.7" x2="353.7" y2="758.7" stroke="#6e160c" stroke-width="1.65"/>
<text transform="translate(347.3 790.85) scale(0.5)" x="0" y="0" font-size="7.8" fill="#747474" stroke="#747474" stroke-width="0.08" text-anchor="middle" textLength="44.76" lengthAdjust="spacingAndGlyphs">Gleason score</text>
<text transform="translate(347.3 795.05) scale(0.5)" x="0" y="0" font-size="7.8" fill="#747474" stroke="#747474" stroke-width="0.08" text-anchor="middle" textLength="8.24" lengthAdjust="spacingAndGlyphs">10</text>
<text transform="translate(347.3 799.25) scale(0.5)" x="0" y="0" font-size="7.8" fill="#747474" stroke="#747474" stroke-width="0.08" text-anchor="middle" textLength="17.51" lengthAdjust="spacingAndGlyphs">(n=4)</text>
<text transform="translate(366.5 9.2) scale(1 1.13)" x="0" y="0" font-size="5.6" fill="#333" stroke="#333" stroke-width="0.14" textLength="142.2" lengthAdjust="spacingAndGlyphs">Expression of HIF1A in PRAD based on nodal metastasis</text>
<text transform="translate(430 15.5) scale(1 1.13)" x="0" y="0" font-size="5.6" fill="#333" stroke="#333" stroke-width="0.14" textLength="13" lengthAdjust="spacingAndGlyphs">status</text>
<line x1="371.5" y1="23.7" x2="371.5" y2="118.5" stroke="#7a7a7a" stroke-width="1.3"/>
<line x1="369" y1="118.5" x2="513.6" y2="118.5" stroke="#7a7a7a" stroke-width="1.35"/>
<line x1="369" y1="23.7" x2="371.5" y2="23.7" stroke="#666" stroke-width="1.2"/>
<text x="367.3" y="25.2" font-size="4.4" fill="#7d7575" text-anchor="end" font-weight="normal" font-family="Liberation Serif, serif">150</text>
<line x1="369" y1="37.2" x2="371.5" y2="37.2" stroke="#666" stroke-width="1.2"/>
<text x="367.3" y="38.7" font-size="4.4" fill="#7d7575" text-anchor="end" font-weight="normal" font-family="Liberation Serif, serif">125</text>
<line x1="369" y1="50.7" x2="371.5" y2="50.7" stroke="#666" stroke-width="1.2"/>
<text x="367.3" y="52.2" font-size="4.4" fill="#7d7575" text-anchor="end" font-weight="normal" font-family="Liberation Serif, serif">100</text>
<line x1="369" y1="64.2" x2="371.5" y2="64.2" stroke="#666" stroke-width="1.2"/>
<text x="367.3" y="65.7" font-size="4.4" fill="#7d7575" text-anchor="end" font-weight="normal" font-family="Liberation Serif, serif">75</text>
<line x1="369" y1="77.7" x2="371.5" y2="77.7" stroke="#666" stroke-width="1.2"/>
<text x="367.3" y="79.2" font-size="4.4" fill="#7d7575" text-anchor="end" font-weight="normal" font-family="Liberation Serif, serif">50</text>
<line x1="369" y1="91.2" x2="371.5" y2="91.2" stroke="#666" stroke-width="1.2"/>
<text x="367.3" y="92.7" font-size="4.4" fill="#7d7575" text-anchor="end" font-weight="normal" font-family="Liberation Serif, serif">25</text>
<line x1="369" y1="104.7" x2="371.5" y2="104.7" stroke="#666" stroke-width="1.2"/>
<text x="367.3" y="106.2" font-size="4.4" fill="#7d7575" text-anchor="end" font-weight="normal" font-family="Liberation Serif, serif">0</text>
<line x1="369" y1="118.2" x2="371.5" y2="118.2" stroke="#666" stroke-width="1.2"/>
<text x="367.3" y="119.7" font-size="4.4" fill="#7d7575" text-anchor="end" font-weight="normal" font-family="Liberation Serif, serif">-25</text>
<text transform="translate(357.5 71) rotate(-90)" x="0" y="0" font-size="4.4" fill="#8a8a8a" font-family="Liberation Serif, serif" text-anchor="middle" textLength="40" lengthAdjust="spacingAndGlyphs">Transcript per million</text>
<line x1="396.5" y1="43.6" x2="396.5" y2="62" stroke="#707070" stroke-width="1.0"/>
<line x1="396.5" y1="81.3" x2="396.5" y2="89.3" stroke="#707070" stroke-width="1.0"/>
<line x1="390.55" y1="43.6" x2="402.45" y2="43.6" stroke="#6e6e6e" stroke-width="1.5"/>
<line x1="390.55" y1="89.3" x2="402.45" y2="89.3" stroke="#6e6e6e" stroke-width="1.5"/>
<rect x="384.5" y="62.4" width="24" height="18.5" fill="#64599f" stroke="#4d4390" stroke-width="0.8"/>
<line x1="384.4" y1="74.4" x2="408.6" y2="74.4" stroke="#2b2463" stroke-width="1.9"/>
<text transform="translate(396.5 124.25) scale(0.5)" x="0" y="0" font-size="7.8" fill="#747474" stroke="#747474" stroke-width="0.08" text-anchor="middle" textLength="23.88" lengthAdjust="spacingAndGlyphs">Normal</text>
<text transform="translate(396.5 129.35) scale(0.5)" x="0" y="0" font-size="7.8" fill="#747474" stroke="#747474" stroke-width="0.08" text-anchor="middle" textLength="21.63" lengthAdjust="spacingAndGlyphs">(n=52)</text>
<line x1="447.5" y1="45.5" x2="447.5" y2="70.2" stroke="#707070" stroke-width="1.0"/>
<line x1="447.5" y1="87.9" x2="447.5" y2="102.9" stroke="#707070" stroke-width="1.0"/>
<line x1="441.1" y1="45.5" x2="452.9" y2="45.5" stroke="#6e6e6e" stroke-width="1.5"/>
<line x1="441.1" y1="102.9" x2="452.9" y2="102.9" stroke="#6e6e6e" stroke-width="1.5"/>
<rect x="435.1" y="70.6" width="23.8" height="16.9" fill="#e8432d" stroke="#d33a25" stroke-width="0.8"/>
<line x1="435" y1="80.4" x2="459" y2="80.4" stroke="#7a180d" stroke-width="1.9"/>
<text transform="translate(447 124.25) scale(0.5)" x="0" y="0" font-size="7.8" fill="#747474" stroke="#747474" stroke-width="0.08" text-anchor="middle" textLength="9.47" lengthAdjust="spacingAndGlyphs">N0</text>
<text transform="translate(447 129.35) scale(0.5)" x="0" y="0" font-size="7.8" fill="#747474" stroke="#747474" stroke-width="0.08" text-anchor="middle" textLength="24.12" lengthAdjust="spacingAndGlyphs">(n=341)</text>
<line x1="497.5" y1="38.9" x2="497.5" y2="66.9" stroke="#707070" stroke-width="1.0"/>
<line x1="497.5" y1="85.3" x2="497.5" y2="101.4" stroke="#707070" stroke-width="1.0"/>
<line x1="491.72" y1="38.9" x2="503.58" y2="38.9" stroke="#6e6e6e" stroke-width="1.5"/>
<line x1="491.72" y1="101.4" x2="503.58" y2="101.4" stroke="#6e6e6e" stroke-width="1.5"/>
<rect x="485.7" y="67.3" width="23.9" height="17.6" fill="#f28c30" stroke="#e07d25" stroke-width="0.8"/>
<line x1="485.6" y1="79.5" x2="509.7" y2="79.5" stroke="#6a3000" stroke-width="1.9"/>
<text transform="translate(497.65 124.25) scale(0.5)" x="0" y="0" font-size="7.8" fill="#747474" stroke="#747474" stroke-width="0.08" text-anchor="middle" textLength="9.47" lengthAdjust="spacingAndGlyphs">N1</text>
<text transform="translate(497.65 129.35) scale(0.5)" x="0" y="0" font-size="7.8" fill="#747474" stroke="#747474" stroke-width="0.08" text-anchor="middle" textLength="21.63" lengthAdjust="spacingAndGlyphs">(n=79)</text>
<text transform="translate(361.7 148.3) scale(1 1.13)" x="0" y="0" font-size="5.6" fill="#333" stroke="#333" stroke-width="0.14" textLength="150.1" lengthAdjust="spacingAndGlyphs">Expression of HSP90AA1 in PRAD based on nodal metastasi</text>
<text transform="translate(430.8 155.2) scale(1 1.13)" x="0" y="0" font-size="5.6" fill="#333" stroke="#333" stroke-width="0.14" textLength="13.2" lengthAdjust="spacingAndGlyphs">status</text>
<line x1="374.5" y1="164" x2="374.5" y2="263.5" stroke="#7a7a7a" stroke-width="1.3"/>
<line x1="372" y1="263.5" x2="512.3" y2="263.5" stroke="#7a7a7a" stroke-width="1.35"/>
<line x1="372" y1="164" x2="374.5" y2="164" stroke="#666" stroke-width="1.2"/>
<text x="370.3" y="165.5" font-size="4.4" fill="#7d7575" text-anchor="end" font-weight="normal" font-family="Liberation Serif, serif">1000</text>
<line x1="372" y1="183.8" x2="374.5" y2="183.8" stroke="#666" stroke-width="1.2"/>
<text x="370.3" y="185.3" font-size="4.4" fill="#7d7575" text-anchor="end" font-weight="normal" font-family="Liberation Serif, serif">800</text>
<line x1="372" y1="203.6" x2="374.5" y2="203.6" stroke="#666" stroke-width="1.2"/>
<text x="370.3" y="205.1" font-size="4.4" fill="#7d7575" text-anchor="end" font-weight="normal" font-family="Liberation Serif, serif">600</text>
<line x1="372" y1="223.4" x2="374.5" y2="223.4" stroke="#666" stroke-width="1.2"/>
<text x="370.3" y="224.9" font-size="4.4" fill="#7d7575" text-anchor="end" font-weight="normal" font-family="Liberation Serif, serif">400</text>
<line x1="372" y1="243.2" x2="374.5" y2="243.2" stroke="#666" stroke-width="1.2"/>
<text x="370.3" y="244.7" font-size="4.4" fill="#7d7575" text-anchor="end" font-weight="normal" font-family="Liberation Serif, serif">200</text>
<line x1="372" y1="263" x2="374.5" y2="263" stroke="#666" stroke-width="1.2"/>
<text x="370.3" y="264.5" font-size="4.4" fill="#7d7575" text-anchor="end" font-weight="normal" font-family="Liberation Serif, serif">0</text>
<text transform="translate(359 213.5) rotate(-90)" x="0" y="0" font-size="4.4" fill="#8a8a8a" font-family="Liberation Serif, serif" text-anchor="middle" textLength="41" lengthAdjust="spacingAndGlyphs">Transcript per million</text>
<line x1="399.5" y1="183.9" x2="399.5" y2="207.1" stroke="#707070" stroke-width="1.0"/>
<line x1="399.5" y1="220.5" x2="399.5" y2="235.5" stroke="#707070" stroke-width="1.0"/>
<line x1="393.31" y1="183.9" x2="404.79" y2="183.9" stroke="#6e6e6e" stroke-width="1.5"/>
<line x1="393.31" y1="235.5" x2="404.79" y2="235.5" stroke="#6e6e6e" stroke-width="1.5"/>
<rect x="387.5" y="207.5" width="23.1" height="12.6" fill="#64599f" stroke="#4d4390" stroke-width="0.8"/>
<line x1="387.4" y1="212.9" x2="410.7" y2="212.9" stroke="#2b2463" stroke-width="1.9"/>
<text transform="translate(399.05 269.15) scale(0.5)" x="0" y="0" font-size="7.8" fill="#747474" stroke="#747474" stroke-width="0.08" text-anchor="middle" textLength="23.88" lengthAdjust="spacingAndGlyphs">Normal</text>
<text transform="translate(399.05 274.05) scale(0.5)" x="0" y="0" font-size="7.8" fill="#747474" stroke="#747474" stroke-width="0.08" text-anchor="middle" textLength="21.63" lengthAdjust="spacingAndGlyphs">(n=52)</text>
<line x1="448.5" y1="178.3" x2="448.5" y2="209.5" stroke="#707070" stroke-width="1.0"/>
<line x1="448.5" y1="229.6" x2="448.5" y2="253.2" stroke="#707070" stroke-width="1.0"/>
<line x1="443.17" y1="178.3" x2="454.73" y2="178.3" stroke="#6e6e6e" stroke-width="1.5"/>
<line x1="443.17" y1="253.2" x2="454.73" y2="253.2" stroke="#6e6e6e" stroke-width="1.5"/>
<rect x="437.3" y="209.9" width="23.3" height="19.3" fill="#e8432d" stroke="#d33a25" stroke-width="0.8"/>
<line x1="437.2" y1="220.9" x2="460.7" y2="220.9" stroke="#7a180d" stroke-width="1.9"/>
<text transform="translate(448.95 269.15) scale(0.5)" x="0" y="0" font-size="7.8" fill="#747474" stroke="#747474" stroke-width="0.08" text-anchor="middle" textLength="9.47" lengthAdjust="spacingAndGlyphs">N0</text>
<text transform="translate(448.95 274.05) scale(0.5)" x="0" y="0" font-size="7.8" fill="#747474" stroke="#747474" stroke-width="0.08" text-anchor="middle" textLength="24.12" lengthAdjust="spacingAndGlyphs">(n=341)</text>
<line x1="498.5" y1="169.3" x2="498.5" y2="203" stroke="#707070" stroke-width="1.0"/>
<line x1="498.5" y1="227.8" x2="498.5" y2="247" stroke="#707070" stroke-width="1.0"/>
<line x1="492.47" y1="169.3" x2="504.03" y2="169.3" stroke="#6e6e6e" stroke-width="1.5"/>
<line x1="492.47" y1="247" x2="504.03" y2="247" stroke="#6e6e6e" stroke-width="1.5"/>
<rect x="486.6" y="203.4" width="23.3" height="24" fill="#f28c30" stroke="#e07d25" stroke-width="0.8"/>
<line x1="486.5" y1="217.8" x2="510" y2="217.8" stroke="#6a3000" stroke-width="1.9"/>
<text transform="translate(498.25 269.15) scale(0.5)" x="0" y="0" font-size="7.8" fill="#747474" stroke="#747474" stroke-width="0.08" text-anchor="middle" textLength="9.47" lengthAdjust="spacingAndGlyphs">N1</text>
<text transform="translate(498.25 274.05) scale(0.5)" x="0" y="0" font-size="7.8" fill="#747474" stroke="#747474" stroke-width="0.08" text-anchor="middle" textLength="21.63" lengthAdjust="spacingAndGlyphs">(n=79)</text>
<text transform="translate(372.9 290.9) scale(1 1.13)" x="0" y="0" font-size="5.6" fill="#333" stroke="#333" stroke-width="0.14" textLength="137.1" lengthAdjust="spacingAndGlyphs">Expression of MMP9 in PRAD based on nodal metastasis</text>
<text transform="translate(434.1 297.4) scale(1 1.13)" x="0" y="0" font-size="5.6" fill="#333" stroke="#333" stroke-width="0.14" textLength="12.9" lengthAdjust="spacingAndGlyphs">status</text>
<line x1="376.5" y1="305.9" x2="376.5" y2="399.5" stroke="#7a7a7a" stroke-width="1.3"/>
<line x1="374" y1="399.5" x2="514.1" y2="399.5" stroke="#7a7a7a" stroke-width="1.35"/>
<line x1="374" y1="305.9" x2="376.5" y2="305.9" stroke="#666" stroke-width="1.2"/>
<text x="372.3" y="307.4" font-size="4.4" fill="#7d7575" text-anchor="end" font-weight="normal" font-family="Liberation Serif, serif">40</text>
<line x1="374" y1="324.52" x2="376.5" y2="324.52" stroke="#666" stroke-width="1.2"/>
<text x="372.3" y="326.02" font-size="4.4" fill="#7d7575" text-anchor="end" font-weight="normal" font-family="Liberation Serif, serif">30</text>
<line x1="374" y1="343.14" x2="376.5" y2="343.14" stroke="#666" stroke-width="1.2"/>
<text x="372.3" y="344.64" font-size="4.4" fill="#7d7575" text-anchor="end" font-weight="normal" font-family="Liberation Serif, serif">20</text>
<line x1="374" y1="361.76" x2="376.5" y2="361.76" stroke="#666" stroke-width="1.2"/>
<text x="372.3" y="363.26" font-size="4.4" fill="#7d7575" text-anchor="end" font-weight="normal" font-family="Liberation Serif, serif">10</text>
<line x1="374" y1="380.38" x2="376.5" y2="380.38" stroke="#666" stroke-width="1.2"/>
<text x="372.3" y="381.88" font-size="4.4" fill="#7d7575" text-anchor="end" font-weight="normal" font-family="Liberation Serif, serif">0</text>
<line x1="374" y1="399" x2="376.5" y2="399" stroke="#666" stroke-width="1.2"/>
<text x="372.3" y="400.5" font-size="4.4" fill="#7d7575" text-anchor="end" font-weight="normal" font-family="Liberation Serif, serif">-10</text>
<text transform="translate(363.7 352.8) rotate(-90)" x="0" y="0" font-size="4.4" fill="#8a8a8a" font-family="Liberation Serif, serif" text-anchor="middle" textLength="38.5" lengthAdjust="spacingAndGlyphs">Transcript per million</text>
<line x1="401.5" y1="362.4" x2="401.5" y2="375.8" stroke="#707070" stroke-width="1.0"/>
<line x1="401.5" y1="379.9" x2="401.5" y2="380.2" stroke="#707070" stroke-width="1.0"/>
<line x1="395.94" y1="362.4" x2="407.26" y2="362.4" stroke="#6e6e6e" stroke-width="1.5"/>
<line x1="395.94" y1="380.2" x2="407.26" y2="380.2" stroke="#6e6e6e" stroke-width="1.5"/>
<rect x="390.2" y="376.2" width="22.8" height="3.3" fill="#64599f" stroke="#4d4390" stroke-width="0.8"/>
<line x1="390.1" y1="379" x2="413.1" y2="379" stroke="#2b2463" stroke-width="1.9"/>
<text transform="translate(401.6 404.85) scale(0.5)" x="0" y="0" font-size="7.8" fill="#747474" stroke="#747474" stroke-width="0.08" text-anchor="middle" textLength="23.88" lengthAdjust="spacingAndGlyphs">Normal</text>
<text transform="translate(401.6 409.85) scale(0.5)" x="0" y="0" font-size="7.8" fill="#747474" stroke="#747474" stroke-width="0.08" text-anchor="middle" textLength="21.63" lengthAdjust="spacingAndGlyphs">(n=52)</text>
<line x1="450.5" y1="334.7" x2="450.5" y2="362.3" stroke="#707070" stroke-width="1.0"/>
<line x1="450.5" y1="375.7" x2="450.5" y2="380" stroke="#707070" stroke-width="1.0"/>
<line x1="444.47" y1="334.7" x2="456.03" y2="334.7" stroke="#6e6e6e" stroke-width="1.5"/>
<line x1="444.47" y1="380" x2="456.03" y2="380" stroke="#6e6e6e" stroke-width="1.5"/>
<rect x="438.6" y="362.7" width="23.3" height="12.6" fill="#e8432d" stroke="#d33a25" stroke-width="0.8"/>
<line x1="438.5" y1="370.7" x2="462" y2="370.7" stroke="#7a180d" stroke-width="1.9"/>
<text transform="translate(450.25 404.85) scale(0.5)" x="0" y="0" font-size="7.8" fill="#747474" stroke="#747474" stroke-width="0.08" text-anchor="middle" textLength="9.47" lengthAdjust="spacingAndGlyphs">N0</text>
<text transform="translate(450.25 409.85) scale(0.5)" x="0" y="0" font-size="7.8" fill="#747474" stroke="#747474" stroke-width="0.08" text-anchor="middle" textLength="24.12" lengthAdjust="spacingAndGlyphs">(n=341)</text>
<line x1="499.5" y1="320.3" x2="499.5" y2="353.9" stroke="#707070" stroke-width="1.0"/>
<line x1="499.5" y1="374.7" x2="499.5" y2="380" stroke="#707070" stroke-width="1.0"/>
<line x1="493.29" y1="320.3" x2="504.71" y2="320.3" stroke="#6e6e6e" stroke-width="1.5"/>
<line x1="493.29" y1="380" x2="504.71" y2="380" stroke="#6e6e6e" stroke-width="1.5"/>
<rect x="487.5" y="354.3" width="23" height="20" fill="#f28c30" stroke="#e07d25" stroke-width="0.8"/>
<line x1="487.4" y1="367.3" x2="510.6" y2="367.3" stroke="#6a3000" stroke-width="1.9"/>
<text transform="translate(499 404.85) scale(0.5)" x="0" y="0" font-size="7.8" fill="#747474" stroke="#747474" stroke-width="0.08" text-anchor="middle" textLength="9.47" lengthAdjust="spacingAndGlyphs">N1</text>
<text transform="translate(499 409.85) scale(0.5)" x="0" y="0" font-size="7.8" fill="#747474" stroke="#747474" stroke-width="0.08" text-anchor="middle" textLength="21.63" lengthAdjust="spacingAndGlyphs">(n=79)</text>
<text transform="translate(373.2 425.1) scale(1 1.13)" x="0" y="0" font-size="5.6" fill="#333" stroke="#333" stroke-width="0.14" textLength="134.9" lengthAdjust="spacingAndGlyphs">Expression of MMP2 in PRAD based on nodal metastasis</text>
<text transform="translate(433.6 430.9) scale(1 1.13)" x="0" y="0" font-size="5.6" fill="#333" stroke="#333" stroke-width="0.14" textLength="12.9" lengthAdjust="spacingAndGlyphs">status</text>
<line x1="377.5" y1="438.8" x2="377.5" y2="523.5" stroke="#7a7a7a" stroke-width="1.3"/>
<line x1="375" y1="523.5" x2="510.5" y2="523.5" stroke="#7a7a7a" stroke-width="1.35"/>
<line x1="375" y1="438.8" x2="377.5" y2="438.8" stroke="#666" stroke-width="1.2"/>
<text x="373.3" y="440.3" font-size="4.4" fill="#7d7575" text-anchor="end" font-weight="normal" font-family="Liberation Serif, serif">200</text>
<line x1="375" y1="455.76" x2="377.5" y2="455.76" stroke="#666" stroke-width="1.2"/>
<text x="373.3" y="457.26" font-size="4.4" fill="#7d7575" text-anchor="end" font-weight="normal" font-family="Liberation Serif, serif">150</text>
<line x1="375" y1="472.72" x2="377.5" y2="472.72" stroke="#666" stroke-width="1.2"/>
<text x="373.3" y="474.22" font-size="4.4" fill="#7d7575" text-anchor="end" font-weight="normal" font-family="Liberation Serif, serif">100</text>
<line x1="375" y1="489.68" x2="377.5" y2="489.68" stroke="#666" stroke-width="1.2"/>
<text x="373.3" y="491.18" font-size="4.4" fill="#7d7575" text-anchor="end" font-weight="normal" font-family="Liberation Serif, serif">50</text>
<line x1="375" y1="506.64" x2="377.5" y2="506.64" stroke="#666" stroke-width="1.2"/>
<text x="373.3" y="508.14" font-size="4.4" fill="#7d7575" text-anchor="end" font-weight="normal" font-family="Liberation Serif, serif">0</text>
<line x1="375" y1="523.6" x2="377.5" y2="523.6" stroke="#666" stroke-width="1.2"/>
<text x="373.3" y="525.1" font-size="4.4" fill="#7d7575" text-anchor="end" font-weight="normal" font-family="Liberation Serif, serif">-50</text>
<text transform="translate(365.5 480.8) rotate(-90)" x="0" y="0" font-size="4.4" fill="#8a8a8a" font-family="Liberation Serif, serif" text-anchor="middle" textLength="37" lengthAdjust="spacingAndGlyphs">Transcript per million</text>
<line x1="401.5" y1="451.6" x2="401.5" y2="474.1" stroke="#707070" stroke-width="1.0"/>
<line x1="401.5" y1="492.7" x2="401.5" y2="499.5" stroke="#707070" stroke-width="1.0"/>
<line x1="396.31" y1="451.6" x2="407.39" y2="451.6" stroke="#6e6e6e" stroke-width="1.5"/>
<line x1="396.31" y1="499.5" x2="407.39" y2="499.5" stroke="#6e6e6e" stroke-width="1.5"/>
<rect x="390.7" y="474.5" width="22.3" height="17.8" fill="#64599f" stroke="#4d4390" stroke-width="0.8"/>
<line x1="390.6" y1="483" x2="413.1" y2="483" stroke="#2b2463" stroke-width="1.9"/>
<text transform="translate(401.85 529.35) scale(0.5)" x="0" y="0" font-size="7.8" fill="#747474" stroke="#747474" stroke-width="0.08" text-anchor="middle" textLength="23.88" lengthAdjust="spacingAndGlyphs">Normal</text>
<text transform="translate(401.85 533.35) scale(0.5)" x="0" y="0" font-size="7.8" fill="#747474" stroke="#747474" stroke-width="0.08" text-anchor="middle" textLength="21.63" lengthAdjust="spacingAndGlyphs">(n=52)</text>
<line x1="449.5" y1="460.8" x2="449.5" y2="483.6" stroke="#707070" stroke-width="1.0"/>
<line x1="449.5" y1="497.3" x2="449.5" y2="505.5" stroke="#707070" stroke-width="1.0"/>
<line x1="444.26" y1="460.8" x2="455.44" y2="460.8" stroke="#6e6e6e" stroke-width="1.5"/>
<line x1="444.26" y1="505.5" x2="455.44" y2="505.5" stroke="#6e6e6e" stroke-width="1.5"/>
<rect x="438.6" y="484" width="22.5" height="12.9" fill="#e8432d" stroke="#d33a25" stroke-width="0.8"/>
<line x1="438.5" y1="492.2" x2="461.2" y2="492.2" stroke="#7a180d" stroke-width="1.9"/>
<text transform="translate(449.85 529.35) scale(0.5)" x="0" y="0" font-size="7.8" fill="#747474" stroke="#747474" stroke-width="0.08" text-anchor="middle" textLength="9.47" lengthAdjust="spacingAndGlyphs">N0</text>
<text transform="translate(449.85 533.35) scale(0.5)" x="0" y="0" font-size="7.8" fill="#747474" stroke="#747474" stroke-width="0.08" text-anchor="middle" textLength="24.12" lengthAdjust="spacingAndGlyphs">(n=341)</text>
<line x1="497.5" y1="461.5" x2="497.5" y2="483.1" stroke="#707070" stroke-width="1.0"/>
<line x1="497.5" y1="497.3" x2="497.5" y2="505.4" stroke="#707070" stroke-width="1.0"/>
<line x1="491.83" y1="461.5" x2="502.97" y2="461.5" stroke="#6e6e6e" stroke-width="1.5"/>
<line x1="491.83" y1="505.4" x2="502.97" y2="505.4" stroke="#6e6e6e" stroke-width="1.5"/>
<rect x="486.2" y="483.5" width="22.4" height="13.4" fill="#f28c30" stroke="#e07d25" stroke-width="0.8"/>
<line x1="486.1" y1="491.7" x2="508.7" y2="491.7" stroke="#6a3000" stroke-width="1.9"/>
<text transform="translate(497.4 529.35) scale(0.5)" x="0" y="0" font-size="7.8" fill="#747474" stroke="#747474" stroke-width="0.08" text-anchor="middle" textLength="9.47" lengthAdjust="spacingAndGlyphs">N1</text>
<text transform="translate(497.4 533.35) scale(0.5)" x="0" y="0" font-size="7.8" fill="#747474" stroke="#747474" stroke-width="0.08" text-anchor="middle" textLength="21.63" lengthAdjust="spacingAndGlyphs">(n=79)</text>
<text transform="translate(368.5 550.4) scale(1 1.13)" x="0" y="0" font-size="5.6" fill="#333" stroke="#333" stroke-width="0.14" textLength="141.5" lengthAdjust="spacingAndGlyphs">Expression of HGF in PRAD based on nodal metastasis status</text>
<line x1="379.5" y1="558.7" x2="379.5" y2="660.5" stroke="#7a7a7a" stroke-width="1.3"/>
<line x1="377" y1="660.5" x2="513.2" y2="660.5" stroke="#7a7a7a" stroke-width="1.35"/>
<line x1="377" y1="558.7" x2="379.5" y2="558.7" stroke="#666" stroke-width="1.2"/>
<text x="375.3" y="560.2" font-size="4.4" fill="#7d7575" text-anchor="end" font-weight="normal" font-family="Liberation Serif, serif">15</text>
<line x1="377" y1="573.3" x2="379.5" y2="573.3" stroke="#666" stroke-width="1.2"/>
<text x="375.3" y="574.8" font-size="4.4" fill="#7d7575" text-anchor="end" font-weight="normal" font-family="Liberation Serif, serif">12.5</text>
<line x1="377" y1="587.9" x2="379.5" y2="587.9" stroke="#666" stroke-width="1.2"/>
<text x="375.3" y="589.4" font-size="4.4" fill="#7d7575" text-anchor="end" font-weight="normal" font-family="Liberation Serif, serif">10</text>
<line x1="377" y1="602.5" x2="379.5" y2="602.5" stroke="#666" stroke-width="1.2"/>
<text x="375.3" y="604" font-size="4.4" fill="#7d7575" text-anchor="end" font-weight="normal" font-family="Liberation Serif, serif">7.5</text>
<line x1="377" y1="617.1" x2="379.5" y2="617.1" stroke="#666" stroke-width="1.2"/>
<text x="375.3" y="618.6" font-size="4.4" fill="#7d7575" text-anchor="end" font-weight="normal" font-family="Liberation Serif, serif">5</text>
<line x1="377" y1="631.7" x2="379.5" y2="631.7" stroke="#666" stroke-width="1.2"/>
<text x="375.3" y="633.2" font-size="4.4" fill="#7d7575" text-anchor="end" font-weight="normal" font-family="Liberation Serif, serif">2.5</text>
<line x1="377" y1="646.3" x2="379.5" y2="646.3" stroke="#666" stroke-width="1.2"/>
<text x="375.3" y="647.8" font-size="4.4" fill="#7d7575" text-anchor="end" font-weight="normal" font-family="Liberation Serif, serif">0</text>
<line x1="377" y1="660.9" x2="379.5" y2="660.9" stroke="#666" stroke-width="1.2"/>
<text x="375.3" y="662.4" font-size="4.4" fill="#7d7575" text-anchor="end" font-weight="normal" font-family="Liberation Serif, serif">-2.5</text>
<text transform="translate(365.5 610) rotate(-90)" x="0" y="0" font-size="4.4" fill="#8a8a8a" font-family="Liberation Serif, serif" text-anchor="middle" textLength="40" lengthAdjust="spacingAndGlyphs">Transcript per million</text>
<line x1="402.5" y1="576" x2="402.5" y2="616.3" stroke="#707070" stroke-width="1.0"/>
<line x1="402.5" y1="640" x2="402.5" y2="644.4" stroke="#707070" stroke-width="1.0"/>
<line x1="396.89" y1="576" x2="407.41" y2="576" stroke="#6e6e6e" stroke-width="1.5"/>
<line x1="396.89" y1="644.4" x2="407.41" y2="644.4" stroke="#6e6e6e" stroke-width="1.5"/>
<rect x="391.6" y="616.7" width="21.1" height="22.9" fill="#64599f" stroke="#4d4390" stroke-width="0.8"/>
<line x1="391.5" y1="632.7" x2="412.8" y2="632.7" stroke="#2b2463" stroke-width="1.9"/>
<text transform="translate(402.15 666.85) scale(0.5)" x="0" y="0" font-size="7.8" fill="#747474" stroke="#747474" stroke-width="0.08" text-anchor="middle" textLength="23.88" lengthAdjust="spacingAndGlyphs">Normal</text>
<text transform="translate(402.15 671.65) scale(0.5)" x="0" y="0" font-size="7.8" fill="#747474" stroke="#747474" stroke-width="0.08" text-anchor="middle" textLength="21.63" lengthAdjust="spacingAndGlyphs">(n=52)</text>
<line x1="448.5" y1="601.2" x2="448.5" y2="627" stroke="#707070" stroke-width="1.0"/>
<line x1="448.5" y1="640.8" x2="448.5" y2="646" stroke="#707070" stroke-width="1.0"/>
<line x1="442.72" y1="601.2" x2="453.48" y2="601.2" stroke="#6e6e6e" stroke-width="1.5"/>
<line x1="442.72" y1="646" x2="453.48" y2="646" stroke="#6e6e6e" stroke-width="1.5"/>
<rect x="437.3" y="627.4" width="21.6" height="13" fill="#e8432d" stroke="#d33a25" stroke-width="0.8"/>
<line x1="437.2" y1="634.6" x2="459" y2="634.6" stroke="#7a180d" stroke-width="1.9"/>
<text transform="translate(448.1 666.85) scale(0.5)" x="0" y="0" font-size="7.8" fill="#747474" stroke="#747474" stroke-width="0.08" text-anchor="middle" textLength="9.47" lengthAdjust="spacingAndGlyphs">N0</text>
<text transform="translate(448.1 671.65) scale(0.5)" x="0" y="0" font-size="7.8" fill="#747474" stroke="#747474" stroke-width="0.08" text-anchor="middle" textLength="24.12" lengthAdjust="spacingAndGlyphs">(n=341)</text>
<line x1="494.5" y1="597.2" x2="494.5" y2="624" stroke="#707070" stroke-width="1.0"/>
<line x1="494.5" y1="640.5" x2="494.5" y2="646" stroke="#707070" stroke-width="1.0"/>
<line x1="488.9" y1="597.2" x2="499.6" y2="597.2" stroke="#6e6e6e" stroke-width="1.5"/>
<line x1="488.9" y1="646" x2="499.6" y2="646" stroke="#6e6e6e" stroke-width="1.5"/>
<rect x="483.5" y="624.4" width="21.5" height="15.7" fill="#f28c30" stroke="#e07d25" stroke-width="0.8"/>
<line x1="483.4" y1="633.2" x2="505.1" y2="633.2" stroke="#6a3000" stroke-width="1.9"/>
<text transform="translate(494.25 666.85) scale(0.5)" x="0" y="0" font-size="7.8" fill="#747474" stroke="#747474" stroke-width="0.08" text-anchor="middle" textLength="9.47" lengthAdjust="spacingAndGlyphs">N1</text>
<text transform="translate(494.25 671.65) scale(0.5)" x="0" y="0" font-size="7.8" fill="#747474" stroke="#747474" stroke-width="0.08" text-anchor="middle" textLength="21.63" lengthAdjust="spacingAndGlyphs">(n=79)</text>
<text transform="translate(373.8 686.7) scale(1 1.13)" x="0" y="0" font-size="5.6" fill="#333" stroke="#333" stroke-width="0.14" textLength="141.1" lengthAdjust="spacingAndGlyphs">Expression of MET in PRAD based on nodal metastasis status</text>
<line x1="382.5" y1="694.2" x2="382.5" y2="785.5" stroke="#7a7a7a" stroke-width="1.3"/>
<line x1="380" y1="785.5" x2="518.2" y2="785.5" stroke="#7a7a7a" stroke-width="1.35"/>
<line x1="380" y1="694.2" x2="382.5" y2="694.2" stroke="#666" stroke-width="1.2"/>
<text x="378.3" y="695.7" font-size="4.4" fill="#7d7575" text-anchor="end" font-weight="normal" font-family="Liberation Serif, serif">35</text>
<line x1="380" y1="705.61" x2="382.5" y2="705.61" stroke="#666" stroke-width="1.2"/>
<text x="378.3" y="707.11" font-size="4.4" fill="#7d7575" text-anchor="end" font-weight="normal" font-family="Liberation Serif, serif">30</text>
<line x1="380" y1="717.03" x2="382.5" y2="717.03" stroke="#666" stroke-width="1.2"/>
<text x="378.3" y="718.53" font-size="4.4" fill="#7d7575" text-anchor="end" font-weight="normal" font-family="Liberation Serif, serif">25</text>
<line x1="380" y1="728.44" x2="382.5" y2="728.44" stroke="#666" stroke-width="1.2"/>
<text x="378.3" y="729.94" font-size="4.4" fill="#7d7575" text-anchor="end" font-weight="normal" font-family="Liberation Serif, serif">20</text>
<line x1="380" y1="739.85" x2="382.5" y2="739.85" stroke="#666" stroke-width="1.2"/>
<text x="378.3" y="741.35" font-size="4.4" fill="#7d7575" text-anchor="end" font-weight="normal" font-family="Liberation Serif, serif">15</text>
<line x1="380" y1="751.26" x2="382.5" y2="751.26" stroke="#666" stroke-width="1.2"/>
<text x="378.3" y="752.76" font-size="4.4" fill="#7d7575" text-anchor="end" font-weight="normal" font-family="Liberation Serif, serif">10</text>
<line x1="380" y1="762.67" x2="382.5" y2="762.67" stroke="#666" stroke-width="1.2"/>
<text x="378.3" y="764.17" font-size="4.4" fill="#7d7575" text-anchor="end" font-weight="normal" font-family="Liberation Serif, serif">5</text>
<line x1="380" y1="774.09" x2="382.5" y2="774.09" stroke="#666" stroke-width="1.2"/>
<text x="378.3" y="775.59" font-size="4.4" fill="#7d7575" text-anchor="end" font-weight="normal" font-family="Liberation Serif, serif">0</text>
<line x1="380" y1="785.5" x2="382.5" y2="785.5" stroke="#666" stroke-width="1.2"/>
<text x="378.3" y="787" font-size="4.4" fill="#7d7575" text-anchor="end" font-weight="normal" font-family="Liberation Serif, serif">-5</text>
<text transform="translate(371.7 739.9) rotate(-90)" x="0" y="0" font-size="4.4" fill="#8a8a8a" font-family="Liberation Serif, serif" text-anchor="middle" textLength="36" lengthAdjust="spacingAndGlyphs">Transcript per million</text>
<line x1="405.5" y1="706.2" x2="405.5" y2="733.3" stroke="#707070" stroke-width="1.0"/>
<line x1="405.5" y1="755.8" x2="405.5" y2="773.1" stroke="#707070" stroke-width="1.0"/>
<line x1="399.95" y1="706.2" x2="410.95" y2="706.2" stroke="#6e6e6e" stroke-width="1.5"/>
<line x1="399.95" y1="773.1" x2="410.95" y2="773.1" stroke="#6e6e6e" stroke-width="1.5"/>
<rect x="394.4" y="733.7" width="22.1" height="21.7" fill="#64599f" stroke="#4d4390" stroke-width="0.8"/>
<line x1="394.3" y1="742.9" x2="416.6" y2="742.9" stroke="#2b2463" stroke-width="1.9"/>
<text transform="translate(405.45 791.05) scale(0.5)" x="0" y="0" font-size="7.8" fill="#747474" stroke="#747474" stroke-width="0.08" text-anchor="middle" textLength="23.88" lengthAdjust="spacingAndGlyphs">Normal</text>
<text transform="translate(405.45 795.05) scale(0.5)" x="0" y="0" font-size="7.8" fill="#747474" stroke="#747474" stroke-width="0.08" text-anchor="middle" textLength="21.63" lengthAdjust="spacingAndGlyphs">(n=52)</text>
<line x1="452.5" y1="727.1" x2="452.5" y2="753" stroke="#707070" stroke-width="1.0"/>
<line x1="452.5" y1="767.6" x2="452.5" y2="773.3" stroke="#707070" stroke-width="1.0"/>
<line x1="446.98" y1="727.1" x2="457.82" y2="727.1" stroke="#6e6e6e" stroke-width="1.5"/>
<line x1="446.98" y1="773.3" x2="457.82" y2="773.3" stroke="#6e6e6e" stroke-width="1.5"/>
<rect x="441.5" y="753.4" width="21.8" height="13.8" fill="#e8432d" stroke="#d33a25" stroke-width="0.8"/>
<line x1="441.4" y1="762.7" x2="463.4" y2="762.7" stroke="#7a180d" stroke-width="1.9"/>
<text transform="translate(452.4 791.05) scale(0.5)" x="0" y="0" font-size="7.8" fill="#747474" stroke="#747474" stroke-width="0.08" text-anchor="middle" textLength="9.47" lengthAdjust="spacingAndGlyphs">N0</text>
<text transform="translate(452.4 795.05) scale(0.5)" x="0" y="0" font-size="7.8" fill="#747474" stroke="#747474" stroke-width="0.08" text-anchor="middle" textLength="24.12" lengthAdjust="spacingAndGlyphs">(n=341)</text>
<line x1="498.5" y1="717.4" x2="498.5" y2="749.9" stroke="#707070" stroke-width="1.0"/>
<line x1="498.5" y1="768.7" x2="498.5" y2="773.1" stroke="#707070" stroke-width="1.0"/>
<line x1="493.35" y1="717.4" x2="504.15" y2="717.4" stroke="#6e6e6e" stroke-width="1.5"/>
<line x1="493.35" y1="773.1" x2="504.15" y2="773.1" stroke="#6e6e6e" stroke-width="1.5"/>
<rect x="487.9" y="750.3" width="21.7" height="18" fill="#f28c30" stroke="#e07d25" stroke-width="0.8"/>
<line x1="487.8" y1="762.7" x2="509.7" y2="762.7" stroke="#6a3000" stroke-width="1.9"/>
<text transform="translate(498.75 791.05) scale(0.5)" x="0" y="0" font-size="7.8" fill="#747474" stroke="#747474" stroke-width="0.08" text-anchor="middle" textLength="9.47" lengthAdjust="spacingAndGlyphs">N1</text>
<text transform="translate(498.75 795.05) scale(0.5)" x="0" y="0" font-size="7.8" fill="#747474" stroke="#747474" stroke-width="0.08" text-anchor="middle" textLength="21.63" lengthAdjust="spacingAndGlyphs">(n=79)</text>
</svg>
</body></html>
